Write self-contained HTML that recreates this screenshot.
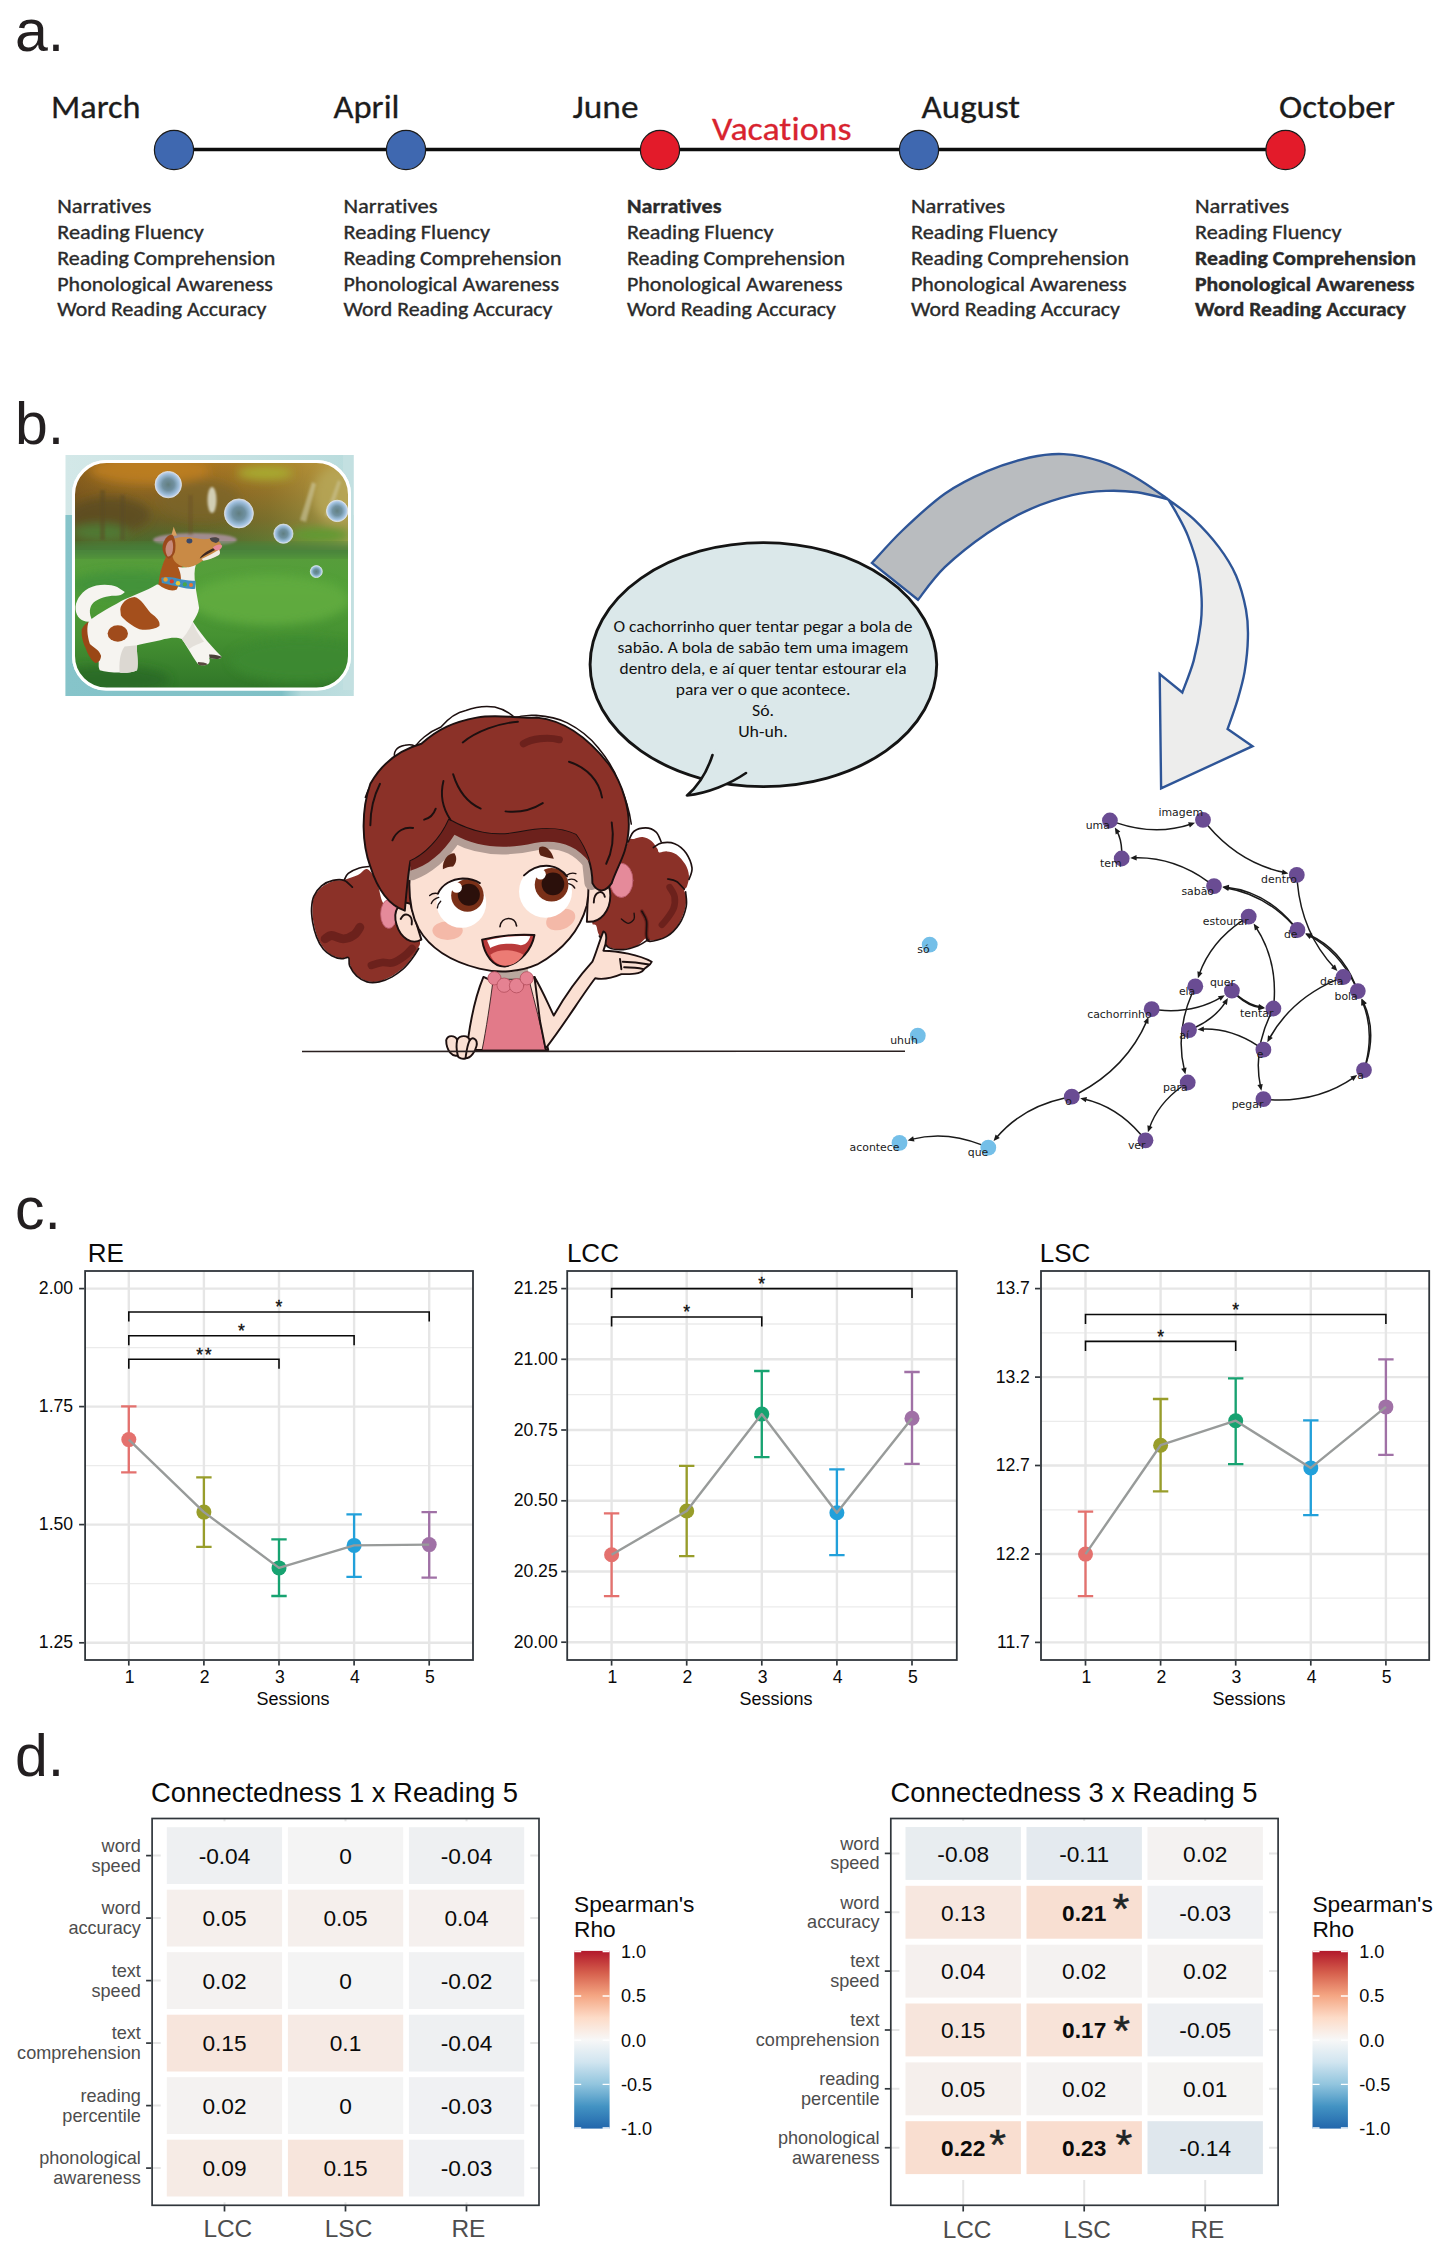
<!DOCTYPE html>
<html lang="en"><head><meta charset="utf-8"><title>Figure</title>
<style>
html,body{margin:0;padding:0;background:#fff;}
svg{display:block;}
text{font-family:"Liberation Sans",Arial,sans-serif;}
.cal{font-family:"Carlito","Liberation Sans",sans-serif;font-variant-ligatures:none;font-feature-settings:"liga" 0,"clig" 0;}
</style></head><body>
<svg width="1450" height="2247" viewBox="0 0 1450 2247">
<rect width="1450" height="2247" fill="#fff"/>
<!-- 10_a.svg -->
<text x="15" y="51" font-size="59" fill="#231f20">a.</text>
<text x="15" y="444" font-size="59" fill="#231f20">b.</text>
<text x="15" y="1229" font-size="59" fill="#231f20">c.</text>
<text x="15" y="1776" font-size="59" fill="#231f20">d.</text>
<line x1="174" y1="149.5" x2="1285" y2="149.5" stroke="#0d0d0d" stroke-width="3.6"/>
<circle cx="174" cy="150" r="19.6" fill="#3f68b0" stroke="#1a1a1a" stroke-width="1.2"/>
<circle cx="406" cy="150" r="19.6" fill="#3f68b0" stroke="#1a1a1a" stroke-width="1.2"/>
<circle cx="660" cy="150" r="19.6" fill="#e31b2a" stroke="#1a1a1a" stroke-width="1.2"/>
<circle cx="919" cy="150" r="19.6" fill="#3f68b0" stroke="#1a1a1a" stroke-width="1.2"/>
<circle cx="1285.5" cy="150" r="19.6" fill="#e31b2a" stroke="#1a1a1a" stroke-width="1.2"/>
<text class="cal" x="51" y="118" font-size="33.5" fill="#1c1c1c" stroke="#1c1c1c" stroke-width="0.3" textLength="89.5" lengthAdjust="spacingAndGlyphs">March</text>
<text class="cal" x="333.5" y="118" font-size="33.5" fill="#1c1c1c" stroke="#1c1c1c" stroke-width="0.3" textLength="66.0" lengthAdjust="spacingAndGlyphs">April</text>
<text class="cal" x="572.5" y="118" font-size="33.5" fill="#1c1c1c" stroke="#1c1c1c" stroke-width="0.3" textLength="66.0" lengthAdjust="spacingAndGlyphs">June</text>
<text class="cal" x="921.5" y="118" font-size="33.5" fill="#1c1c1c" stroke="#1c1c1c" stroke-width="0.3" textLength="98.5" lengthAdjust="spacingAndGlyphs">August</text>
<text class="cal" x="1279" y="118" font-size="33.5" fill="#1c1c1c" stroke="#1c1c1c" stroke-width="0.3" textLength="116" lengthAdjust="spacingAndGlyphs">October</text>
<text class="cal" x="712" y="139.5" font-size="33.5" fill="#d8232f" stroke="#d8232f" stroke-width="0.3" textLength="139.5" lengthAdjust="spacingAndGlyphs">Vacations</text>
<text class="cal" x="57.3" y="213" font-size="20" fill="#2a2a2a" stroke="#2a2a2a" stroke-width="0.35" textLength="94" lengthAdjust="spacingAndGlyphs">Narratives</text>
<text class="cal" x="57.3" y="238.5" font-size="20" fill="#2a2a2a" stroke="#2a2a2a" stroke-width="0.35" textLength="146.5" lengthAdjust="spacingAndGlyphs">Reading Fluency</text>
<text class="cal" x="57.3" y="265" font-size="20" fill="#2a2a2a" stroke="#2a2a2a" stroke-width="0.35" textLength="218" lengthAdjust="spacingAndGlyphs">Reading Comprehension</text>
<text class="cal" x="57.3" y="291" font-size="20" fill="#2a2a2a" stroke="#2a2a2a" stroke-width="0.35" textLength="215.5" lengthAdjust="spacingAndGlyphs">Phonological Awareness</text>
<text class="cal" x="57.3" y="316" font-size="20" fill="#2a2a2a" stroke="#2a2a2a" stroke-width="0.35" textLength="209" lengthAdjust="spacingAndGlyphs">Word Reading Accuracy</text>
<text class="cal" x="343.5" y="213" font-size="20" fill="#2a2a2a" stroke="#2a2a2a" stroke-width="0.35" textLength="94" lengthAdjust="spacingAndGlyphs">Narratives</text>
<text class="cal" x="343.5" y="238.5" font-size="20" fill="#2a2a2a" stroke="#2a2a2a" stroke-width="0.35" textLength="146.5" lengthAdjust="spacingAndGlyphs">Reading Fluency</text>
<text class="cal" x="343.5" y="265" font-size="20" fill="#2a2a2a" stroke="#2a2a2a" stroke-width="0.35" textLength="218" lengthAdjust="spacingAndGlyphs">Reading Comprehension</text>
<text class="cal" x="343.5" y="291" font-size="20" fill="#2a2a2a" stroke="#2a2a2a" stroke-width="0.35" textLength="215.5" lengthAdjust="spacingAndGlyphs">Phonological Awareness</text>
<text class="cal" x="343.5" y="316" font-size="20" fill="#2a2a2a" stroke="#2a2a2a" stroke-width="0.35" textLength="209" lengthAdjust="spacingAndGlyphs">Word Reading Accuracy</text>
<text class="cal" x="627" y="213" font-size="20" fill="#2a2a2a" stroke="#2a2a2a" stroke-width="0.35" font-weight="700" textLength="94.5" lengthAdjust="spacingAndGlyphs">Narratives</text>
<text class="cal" x="627" y="238.5" font-size="20" fill="#2a2a2a" stroke="#2a2a2a" stroke-width="0.35" textLength="146.5" lengthAdjust="spacingAndGlyphs">Reading Fluency</text>
<text class="cal" x="627" y="265" font-size="20" fill="#2a2a2a" stroke="#2a2a2a" stroke-width="0.35" textLength="218" lengthAdjust="spacingAndGlyphs">Reading Comprehension</text>
<text class="cal" x="627" y="291" font-size="20" fill="#2a2a2a" stroke="#2a2a2a" stroke-width="0.35" textLength="215.5" lengthAdjust="spacingAndGlyphs">Phonological Awareness</text>
<text class="cal" x="627" y="316" font-size="20" fill="#2a2a2a" stroke="#2a2a2a" stroke-width="0.35" textLength="209" lengthAdjust="spacingAndGlyphs">Word Reading Accuracy</text>
<text class="cal" x="911" y="213" font-size="20" fill="#2a2a2a" stroke="#2a2a2a" stroke-width="0.35" textLength="94" lengthAdjust="spacingAndGlyphs">Narratives</text>
<text class="cal" x="911" y="238.5" font-size="20" fill="#2a2a2a" stroke="#2a2a2a" stroke-width="0.35" textLength="146.5" lengthAdjust="spacingAndGlyphs">Reading Fluency</text>
<text class="cal" x="911" y="265" font-size="20" fill="#2a2a2a" stroke="#2a2a2a" stroke-width="0.35" textLength="218" lengthAdjust="spacingAndGlyphs">Reading Comprehension</text>
<text class="cal" x="911" y="291" font-size="20" fill="#2a2a2a" stroke="#2a2a2a" stroke-width="0.35" textLength="215.5" lengthAdjust="spacingAndGlyphs">Phonological Awareness</text>
<text class="cal" x="911" y="316" font-size="20" fill="#2a2a2a" stroke="#2a2a2a" stroke-width="0.35" textLength="209" lengthAdjust="spacingAndGlyphs">Word Reading Accuracy</text>
<text class="cal" x="1195" y="213" font-size="20" fill="#2a2a2a" stroke="#2a2a2a" stroke-width="0.35" textLength="94" lengthAdjust="spacingAndGlyphs">Narratives</text>
<text class="cal" x="1195" y="238.5" font-size="20" fill="#2a2a2a" stroke="#2a2a2a" stroke-width="0.35" textLength="146.5" lengthAdjust="spacingAndGlyphs">Reading Fluency</text>
<text class="cal" x="1195" y="265" font-size="20" fill="#2a2a2a" stroke="#2a2a2a" stroke-width="0.35" font-weight="700" textLength="221" lengthAdjust="spacingAndGlyphs">Reading Comprehension</text>
<text class="cal" x="1195" y="291" font-size="20" fill="#2a2a2a" stroke="#2a2a2a" stroke-width="0.35" font-weight="700" textLength="219.5" lengthAdjust="spacingAndGlyphs">Phonological Awareness</text>
<text class="cal" x="1195" y="316" font-size="20" fill="#2a2a2a" stroke="#2a2a2a" stroke-width="0.35" font-weight="700" textLength="211" lengthAdjust="spacingAndGlyphs">Word Reading Accuracy</text>
<!-- 20_dog.svg -->
<defs>
<linearGradient id="dgBg" x1="0" y1="0" x2="1" y2="0"><stop offset="0" stop-color="#d3e8e8"/><stop offset="0.5" stop-color="#c9e3e4"/><stop offset="1" stop-color="#b9dcdd"/></linearGradient>
<linearGradient id="dgBg2" x1="0" y1="0" x2="1" y2="0"><stop offset="0" stop-color="#86c4ca"/><stop offset="0.75" stop-color="#7fc0c6"/><stop offset="0.82" stop-color="#b5dadc"/><stop offset="1" stop-color="#bfdfe0"/></linearGradient>
<linearGradient id="dgSky" x1="0" y1="0" x2="0" y2="1"><stop offset="0" stop-color="#b0761f"/><stop offset="0.35" stop-color="#8a6422"/><stop offset="0.62" stop-color="#6a5f26"/><stop offset="0.82" stop-color="#4c6a2d"/><stop offset="1" stop-color="#3f7f31"/></linearGradient>
<linearGradient id="dgSkyR" x1="0" y1="0" x2="1" y2="0"><stop offset="0" stop-color="#5a3a12" stop-opacity="0.35"/><stop offset="0.3" stop-color="#8a6a22" stop-opacity="0"/><stop offset="0.7" stop-color="#a8a040" stop-opacity="0.25"/><stop offset="1" stop-color="#c8b860" stop-opacity="0.7"/></linearGradient>
<linearGradient id="dgGrass" x1="0" y1="0" x2="0" y2="1"><stop offset="0" stop-color="#589c3c"/><stop offset="0.25" stop-color="#52a038"/><stop offset="0.6" stop-color="#469232"/><stop offset="1" stop-color="#2f7428"/></linearGradient>
<radialGradient id="dgBub" cx="0.5" cy="0.5" r="0.5"><stop offset="0" stop-color="#5f7f86"/><stop offset="0.45" stop-color="#6f93a8"/><stop offset="0.8" stop-color="#9fc3e6"/><stop offset="0.95" stop-color="#c8d8f2"/><stop offset="1" stop-color="#e6eefa"/></radialGradient>
<clipPath id="dgClip"><rect x="73.5" y="461.5" width="276" height="227.5" rx="33" ry="33"/></clipPath>
<filter id="dgBlur" x="-20%" y="-20%" width="140%" height="140%"><feGaussianBlur stdDeviation="5"/></filter>
<filter id="dgBlur3" x="-10%" y="-10%" width="120%" height="120%"><feGaussianBlur stdDeviation="4"/></filter>
<filter id="dgBlur2" x="-20%" y="-20%" width="140%" height="140%"><feGaussianBlur stdDeviation="1.2"/></filter>
</defs>
<g>
<rect x="65.5" y="455" width="288" height="241" fill="url(#dgBg)"/>
<rect x="65.5" y="515" width="288" height="181" fill="url(#dgBg2)"/>
<rect x="343" y="455" width="10.5" height="235" fill="#c3e0e1"/>
<rect x="72" y="460" width="279" height="230.500" rx="34" ry="34" fill="#fff"/>
<g clip-path="url(#dgClip)">
<rect x="70" y="458" width="284" height="100" fill="url(#dgSky)"/>
<rect x="70" y="458" width="284" height="100" fill="url(#dgSkyR)"/>
<g filter="url(#dgBlur)">
<ellipse cx="150" cy="470" rx="60" ry="14" fill="#c07f22" opacity="0.8"/>
<ellipse cx="110" cy="515" rx="40" ry="18" fill="#5a4a1e" opacity="0.8"/>
<ellipse cx="265" cy="473" rx="28" ry="7" fill="#a8b030" opacity="0.9"/>
<ellipse cx="335" cy="495" rx="22" ry="28" fill="#b8a858" opacity="0.8"/>
<ellipse cx="200" cy="500" rx="40" ry="20" fill="#7a6526" opacity="0.7"/>
<ellipse cx="320" cy="535" rx="30" ry="7" fill="#5f9a30"/>
<ellipse cx="100" cy="532" rx="28" ry="8" fill="#4f7a34"/>
</g>
<g filter="url(#dgBlur2)">
<ellipse cx="195" cy="540" rx="42" ry="7" fill="#a8909a" opacity="0.9"/>
<ellipse cx="212" cy="500" rx="4.5" ry="13" fill="#e0e0cc" opacity="0.85"/>
<path d="M300 520 L312 482 L316 484 L306 522 Z" fill="#cfc9a0" opacity="0.6"/>
<path d="M325 515 L338 480 L341 482 L330 517 Z" fill="#cfc9a0" opacity="0.5"/>
<rect x="100" y="490" width="5" height="50" fill="#5a4a20" opacity="0.5"/>
<rect x="120" y="495" width="5" height="45" fill="#5a4a20" opacity="0.4"/>
<rect x="188" y="495" width="5" height="40" fill="#6a5020" opacity="0.4"/>
</g>
<rect x="70" y="550" width="284" height="142" fill="url(#dgGrass)"/>
<rect x="60" y="544" width="300" height="12" fill="#47803a" filter="url(#dgBlur)"/>
<g filter="url(#dgBlur)" opacity="0.9">
<ellipse cx="270" cy="600" rx="80" ry="25" fill="#62ac40"/>
<ellipse cx="130" cy="585" rx="60" ry="14" fill="#43923a"/>
<ellipse cx="300" cy="660" rx="70" ry="22" fill="#3c8a30"/>
<ellipse cx="110" cy="680" rx="60" ry="14" fill="#2a6a26"/>
</g>
<g transform="translate(70,510) scale(0.12414)">
<g filter="url(#dgBlur3)">
<!-- tail -->
<path d="M150 900 C90 900 50 860 45 800 C40 740 80 670 150 630 C220 595 320 595 380 620 L442 660 C420 685 390 692 360 690 C300 690 230 710 190 745 C155 780 150 830 180 890 Z" fill="#f6f4f0"/>
<!-- body -->
<path d="M150 900 C200 850 300 800 420 730 C500 690 620 650 700 600 L1010 600 C1015 660 1030 720 1040 790 C1035 830 1010 870 990 900 C1030 960 1100 1060 1220 1180 C1215 1205 1180 1205 1120 1190 C1130 1210 1125 1235 1110 1242 C1080 1255 1050 1255 1030 1240 C990 1190 950 1110 900 1040 C860 1020 800 1030 760 1040 C700 1060 600 1075 540 1090 C535 1150 555 1230 540 1290 C500 1310 440 1315 400 1310 C340 1310 280 1300 240 1290 C225 1260 235 1240 230 1220 C190 1170 150 1080 130 1000 C125 960 130 925 150 900 Z" fill="#f6f4f0"/>
<path d="M540 1090 C535 1150 555 1230 540 1290 C500 1310 440 1315 400 1310 C395 1240 400 1150 440 1100 Z" fill="#dcd8d2"/>
<path d="M900 1040 C940 1000 960 960 990 900 C1000 950 1040 1010 1080 1060 C1040 1080 1000 1090 960 1120 Z" fill="#e4e0da"/>
<!-- patches -->
<path d="M405 800 C410 750 460 705 520 700 C570 710 610 780 650 830 C700 865 730 900 720 935 C680 965 610 970 560 960 C500 935 440 890 410 850 Z" fill="#a4501c"/>
<ellipse cx="385" cy="995" rx="82" ry="66" fill="#a04c1a"/>
<path d="M95 960 C110 930 135 905 150 900 C135 940 135 1000 160 1080 C190 1110 235 1125 250 1175 C250 1205 230 1235 205 1232 C175 1215 145 1170 125 1110 C100 1060 90 1000 95 960 Z" fill="#9a4616"/>
<!-- neck -->
<path d="M780 360 C740 440 720 520 712 600 C760 640 820 660 860 640 L895 560 C905 520 905 470 900 440 L860 380 Z" fill="#a9571f"/>
<path d="M870 460 C920 470 980 455 1015 435 C1000 480 1000 540 1010 600 L890 590 C900 550 890 500 870 460 Z" fill="#f3f0ea"/>
<!-- head -->
<path d="M835 135 L862 205 L815 210 Z" fill="#d9a05e"/>
<path d="M830 235 C880 210 960 215 1020 228 C1080 240 1130 235 1170 220 C1190 222 1205 235 1200 255 C1215 265 1225 285 1215 305 C1205 325 1205 345 1205 352 C1170 385 1110 400 1075 405 C1040 430 1000 455 955 462 C905 462 860 440 835 400 C815 350 815 280 830 235 Z" fill="#c98a45"/>
<path d="M1060 395 C1110 370 1160 345 1200 320 C1212 335 1210 355 1200 362 C1160 385 1110 402 1075 408 Z" fill="#f0ece4"/>
<path d="M1045 392 C1090 365 1140 335 1198 308 C1180 300 1160 302 1140 315 C1100 335 1060 360 1045 392 Z" fill="#3a2820"/>
<path d="M1150 300 C1175 280 1210 270 1225 285 C1228 305 1205 322 1180 325 C1165 322 1155 312 1150 300 Z" fill="#e88a98"/>
<path d="M1125 228 C1150 215 1190 215 1203 232 C1205 250 1195 262 1175 265 C1150 262 1130 250 1125 228 Z" fill="#4a4448"/>
<ellipse cx="962" cy="250" rx="24" ry="20" fill="#3a4a6a"/>
<!-- ear -->
<path d="M745 300 C750 245 785 195 825 200 C850 230 855 290 845 340 C830 375 810 395 790 392 C765 375 745 340 745 300 Z" fill="#9a4a1c"/>
<path d="M770 310 C775 270 800 240 822 245 C835 275 832 320 822 350 C810 372 795 378 785 372 C775 355 768 335 770 310 Z" fill="#c78a7a"/>
<!-- collar -->
<path d="M735 545 C790 530 850 545 900 560 C940 568 980 570 1012 570 L1008 635 C970 640 930 632 900 625 C850 612 790 598 740 588 Z" fill="#3f8fc0"/>
<circle cx="770" cy="560" r="18" fill="#e8a030"/><circle cx="820" cy="575" r="17" fill="#d8402c"/><circle cx="870" cy="590" r="18" fill="#e8c838"/><circle cx="925" cy="600" r="17" fill="#48a848"/><circle cx="975" cy="605" r="16" fill="#e87830"/>
<!-- paws -->
<path d="M1120 1165 C1150 1160 1200 1170 1222 1182 C1210 1205 1170 1205 1125 1192 Z" fill="#4a4038"/>
<path d="M1030 1225 C1060 1225 1095 1232 1110 1242 C1085 1255 1050 1255 1030 1242 Z" fill="#5a4a40"/>
</g>
</g>
<!-- bubbles -->
<g stroke="#dfeaf5" stroke-width="0.8" opacity="0.95">
<circle cx="168.300" cy="484.600" r="13.200" fill="url(#dgBub)"/>
<circle cx="238.900" cy="513.400" r="14.500" fill="url(#dgBub)"/>
<circle cx="337.200" cy="510.900" r="10.700" fill="url(#dgBub)"/>
<circle cx="283.400" cy="533.700" r="9.600" fill="url(#dgBub)"/>
<circle cx="316.300" cy="571.600" r="6" fill="url(#dgBub)"/>
</g>
</g>
<rect x="73.500" y="461.500" width="276" height="227.500" rx="33" ry="33" fill="none" stroke="#fff" stroke-width="3"/>
</g>

<!-- 25_bubble.svg -->
<path d="M1168.2 499.4 C1172.4 502.7 1185.2 511.2 1193.7 519.2 C1202.1 527.2 1212.0 538.0 1219.1 547.4 C1226.2 556.9 1231.6 565.4 1236.1 575.7 C1240.5 586.1 1244.0 599.3 1246.0 609.7 C1247.9 620.0 1248.2 627.6 1247.9 637.9 C1247.7 648.3 1246.3 661.5 1244.6 671.9 C1242.8 682.2 1240.3 690.6 1237.5 700.1 C1234.7 709.7 1229.2 724.2 1227.6 729.0 L1252.5 746.2 L1161.1 788.4 L1159.7 674.1 L1182.3 692.5 C1184.2 687.2 1190.6 672.0 1193.7 660.6 C1196.7 649.1 1199.4 634.2 1200.7 623.8 C1202.0 613.4 1202.0 607.8 1201.6 598.3 C1201.1 588.9 1200.2 577.6 1197.9 567.2 C1195.6 556.9 1191.5 545.1 1188.0 536.1 C1184.5 527.2 1180.0 519.6 1176.7 513.5 C1173.4 507.4 1169.6 501.7 1168.2 499.4 Z" fill="#ededec" stroke="#2e5597" stroke-width="2.4" stroke-linejoin="miter"/>
<path d="M871.9 563.0 C877.0 557.6 890.3 542.0 902.4 530.5 C914.6 518.9 930.7 503.6 944.8 493.7 C959.0 483.8 973.1 477.1 987.2 471.1 C1001.4 465.1 1016.9 460.4 1029.7 457.5 C1042.4 454.7 1051.8 453.5 1063.6 454.1 C1075.4 454.8 1088.6 457.4 1100.3 461.2 C1112.1 465.0 1123.0 470.4 1134.3 476.8 C1145.6 483.1 1162.6 495.6 1168.2 499.4 L1168.2 499.4 C1163.0 498.2 1147.5 493.7 1137.1 492.3 C1126.7 490.9 1116.8 490.4 1106.0 490.9 C1095.2 491.4 1084.8 492.1 1072.1 495.1 C1059.3 498.2 1043.8 502.9 1029.7 509.3 C1015.5 515.6 1001.4 523.6 987.2 533.3 C973.1 543.0 956.4 556.2 944.8 567.2 C933.3 578.3 922.4 594.3 918.0 599.8 Z" fill="#b9bcbf" stroke="#2e5597" stroke-width="2.4" stroke-linejoin="miter"/>
<path d="M712 752 C707 770 697 786 687.5 795 C708 792 730 783 746 772 L760 740 Z" fill="#dbe8ea"/>
<ellipse cx="763.4" cy="664.6" rx="173.3" ry="122" fill="#dbe8ea" stroke="#141414" stroke-width="2.9"/>
<path d="M714 748 L740 775 L752 768 Z" fill="#dbe8ea"/>
<path d="M712.5 755 C707 772 697 787 687 795.5 C708 793 730 784 746 773" fill="#dbe8ea" stroke="#141414" stroke-width="2.6" stroke-linecap="round" stroke-linejoin="round"/>
<text class="cal" x="613.5" y="632.2" font-size="15.8" fill="#111" textLength="299" lengthAdjust="spacingAndGlyphs">O cachorrinho quer tentar pegar a bola de</text>
<text class="cal" x="617.5" y="653.2" font-size="15.8" fill="#111" textLength="291" lengthAdjust="spacingAndGlyphs">sabão. A bola de sabão tem uma imagem</text>
<text class="cal" x="619.5" y="674.1" font-size="15.8" fill="#111" textLength="287" lengthAdjust="spacingAndGlyphs">dentro dela, e aí quer tentar estourar ela</text>
<text class="cal" x="675.8" y="695.1" font-size="15.8" fill="#111" textLength="174.5" lengthAdjust="spacingAndGlyphs">para ver o que acontece.</text>
<text class="cal" x="752.0" y="716.1" font-size="15.8" fill="#111" textLength="22" lengthAdjust="spacingAndGlyphs">Só.</text>
<text class="cal" x="738.2" y="737.1" font-size="15.8" fill="#111" textLength="49.5" lengthAdjust="spacingAndGlyphs">Uh-uh.</text>
<!-- 30_girl.svg -->
<g transform="translate(300,690) scale(0.27586)" stroke-linejoin="round" stroke-linecap="round">
<!-- offset outline strokes (white halo style) -->
<g fill="none" stroke="#1d1010" stroke-width="5.5">
<path d="M237 389 C250 350 265 325 290 300 C305 280 325 265 345 252"/>
<path d="M345 252 C335 225 350 205 380 200 C400 196 420 200 430 215"/>
<path d="M405 225 C425 185 470 150 511 134 C540 100 570 80 601 74 C640 60 680 58 706 62 C740 70 770 88 789 111"/>
<path d="M766 104 C800 92 830 90 856 92 C900 95 940 105 969 119 C1010 140 1050 170 1081 209 C1115 250 1140 290 1156 336 C1180 390 1195 440 1201 486"/>
</g>
<!-- ponytails -->
<path d="M245 650 C233 645 224 665 210 671 C196 677 176 684 161 688 C146 692 136 688 122 692 C108 696 92 704 80 713 C68 722 58 735 52 748 C46 761 46 774 45 790 C44 806 46 824 49 842 C52 860 57 879 63 895 C69 911 78 926 87 937 C96 948 104 955 115 961 C126 967 140 971 150 972 C160 973 170 967 175 968 C180 969 176 972 178 978 C180 984 180 997 185 1007 C190 1017 200 1030 210 1038 C220 1046 232 1053 245 1056 C258 1059 272 1059 287 1056 C302 1053 318 1046 332 1038 C346 1030 359 1020 371 1010 C383 1000 393 987 402 975 C411 963 422 948 427 937 C432 926 438 924 434 909 C430 894 416 868 400 850 C384 832 357 813 340 800 C323 787 310 787 300 770 C290 753 289 720 280 700 C271 680 257 655 245 650 Z" fill="#8b3128"/>
<path d="M91 902 C95 900 104 890 115 890 C126 890 144 902 157 902 C170 902 186 895 196 888 C206 881 214 865 217 860" fill="none" stroke="#6c211c" stroke-width="32"/>
<path d="M259 998 C265 996 284 990 297 988 C310 986 322 993 336 989 C350 985 366 974 378 965 C390 956 401 942 406 937" fill="none" stroke="#6c211c" stroke-width="28"/>
<g fill="none" stroke="#1d1010" stroke-width="6">
<path d="M250 640 C244 641 228 641 215 645 C202 649 184 658 175 665 C166 672 162 686 160 690"/>
<path d="M190 715 C185 711 172 694 160 690 C148 686 134 687 120 690 C106 693 90 700 78 710 C66 720 56 735 50 748 C44 761 43 774 42 790 C41 806 43 824 46 842 C49 860 54 879 60 895 C66 911 76 929 85 940 C94 951 104 957 115 963 C126 969 140 973 150 974 C160 975 171 966 176 970 C181 974 175 989 180 1000 C185 1011 194 1026 205 1036 C216 1046 229 1054 243 1058 C257 1062 272 1061 287 1058 C302 1055 320 1048 334 1040 C348 1032 361 1022 373 1012 C385 1002 394 990 404 977 C414 964 426 944 430 937"/>
</g>
<path d="M1190 550 C1200 532 1202 543 1211 540 C1220 537 1232 532 1242 533 C1252 534 1265 540 1274 547 C1283 554 1290 568 1295 575 C1300 582 1296 587 1302 589 C1308 591 1320 584 1330 585 C1340 586 1354 588 1365 596 C1376 604 1388 618 1396 631 C1404 644 1409 660 1410 673 C1411 686 1406 702 1403 711 C1400 720 1394 718 1393 725 C1392 732 1400 739 1400 750 C1400 761 1400 778 1396 792 C1392 806 1387 822 1379 837 C1371 852 1359 868 1347 879 C1335 890 1320 899 1305 904 C1290 909 1269 908 1260 907 C1251 906 1259 897 1253 900 C1247 903 1238 918 1225 925 C1212 932 1190 938 1172 939 C1154 940 1134 940 1120 932 C1106 924 1093 903 1085 890 C1077 877 1078 864 1074 855 C1070 846 1056 861 1060 835 C1064 809 1085 731 1100 700 C1115 669 1135 675 1150 650 C1165 625 1180 568 1190 550 Z" fill="#8b3128"/>
<path d="M1340 715 C1343 721 1356 737 1358 750 C1360 763 1359 779 1354 792 C1349 805 1337 820 1330 830 C1323 840 1315 848 1312 851" fill="none" stroke="#6c211c" stroke-width="24"/>
<path d="M1239 802 C1242 808 1253 822 1256 837 C1259 852 1255 879 1256 890 C1257 901 1261 902 1262 905" fill="none" stroke="#6c211c" stroke-width="14"/>
<g fill="none" stroke="#1d1010" stroke-width="6">
<path d="M1190 550 C1194 544 1200 520 1211 512 C1222 504 1240 500 1253 500 C1266 500 1282 507 1291 515 C1300 523 1306 544 1309 550"/>
<path d="M1281 571 C1286 568 1299 556 1312 554 C1325 552 1343 551 1358 557 C1373 563 1390 577 1400 592 C1410 607 1419 629 1421 645 C1423 661 1412 680 1410 687"/>
<path d="M1333 685 C1338 686 1355 688 1365 694 C1375 700 1388 717 1393 722"/>
<path d="M1398 732 C1398 741 1404 766 1400 785 C1396 804 1387 830 1375 848 C1363 866 1348 882 1330 893 C1312 904 1279 912 1267 911 C1255 910 1258 902 1256 890 C1254 878 1259 852 1256 837 C1253 822 1242 808 1239 802"/>
<path d="M1165 830 C1169 833 1182 846 1190 846 C1198 846 1208 836 1211 830 C1214 824 1211 812 1211 809" stroke-width="5"/>
<path d="M1262 905 C1256 909 1240 921 1225 927 C1210 933 1190 940 1172 941 C1154 942 1134 942 1120 934 C1106 926 1091 899 1085 892"/>
</g>
<!-- hair ties -->
<ellipse cx="322" cy="812" rx="30" ry="52" fill="#e58a9a" stroke="#b95a6c" stroke-width="3"/>
<ellipse cx="1165" cy="690" rx="42" ry="62" fill="#e58a9a" stroke="#b95a6c" stroke-width="3"/>
<!-- back hair mass -->
<path d="M255 640 C225 560 220 440 255 340 C300 260 370 215 440 195 C500 140 560 115 640 100 C720 85 790 105 860 100 C960 110 1050 180 1120 270 C1170 340 1200 440 1190 520 C1185 590 1150 640 1130 700 L1050 760 L380 800 C320 780 280 720 255 640 Z" fill="#8b3128"/>
<!-- ears -->
<path d="M400 775 C360 760 335 800 350 850 C365 900 405 925 440 905 Z" fill="#fbe0d3" stroke="#1d1010" stroke-width="7"/>
<path d="M365 830 C380 800 410 815 405 850" fill="none" stroke="#1d1010" stroke-width="7"/>
<path d="M1045 700 C1080 670 1125 690 1125 745 C1125 800 1090 845 1040 840 Z" fill="#fbe0d3" stroke="#1d1010" stroke-width="7"/>
<path d="M1065 770 C1065 730 1100 720 1105 750" fill="none" stroke="#1d1010" stroke-width="7"/>
<!-- neck -->
<path d="M700 980 L700 1060 L830 1060 L825 970 Z" fill="#fbe0d3"/>
<path d="M705 1005 C740 1030 790 1030 825 1000 L828 1040 C790 1060 740 1060 702 1040 Z" fill="#b9a79e"/>
<!-- face -->
<path d="M405 600 C390 700 395 800 430 865 C470 935 550 985 650 1010 C720 1028 800 1022 860 995 C950 945 1015 870 1040 780 C1055 700 1040 600 1000 520 L560 470 Z" fill="#fbe0d3" stroke="#1d1010" stroke-width="7"/>
<!-- fringe shadow -->
<path d="M405 665 C460 645 522 595 562 530 C640 572 740 582 850 557 C930 542 1000 562 1048 625 L1056 700" fill="none" stroke="#b39d95" stroke-width="50"/>
<!-- front hair -->
<path d="M255 640 C225 560 220 440 255 340 C300 260 370 215 440 195 C500 140 560 115 640 100 C720 85 790 105 860 100 C960 110 1050 180 1120 270 C1170 340 1200 440 1190 520 C1185 590 1150 640 1130 700 C1110 730 1080 740 1060 700 C1060 640 1040 580 1000 525 C940 495 870 500 800 515 C700 535 620 515 540 470 C510 540 450 600 400 620 C390 680 385 740 380 800 C320 780 280 720 255 640 Z" fill="#8b3128" stroke="#1d1010" stroke-width="7"/>
<path d="M400 620 C450 600 510 540 540 470 C620 515 700 535 800 515 C870 500 940 495 1000 525 C1020 550 1040 590 1050 625 C1000 560 930 540 850 555 C740 580 640 570 560 525 C520 590 460 640 400 655 Z" fill="#6c211c"/>
<path d="M810 195 C840 175 900 170 940 180" fill="none" stroke="#6c211c" stroke-width="26"/>
<g fill="none" stroke="#1d1010" stroke-width="7">
<path d="M520 330 C505 390 525 440 545 470"/>
<path d="M555 305 C575 370 610 410 655 430"/>
<path d="M590 190 C640 150 720 120 790 115"/>
<path d="M745 440 C790 445 840 435 880 410"/>
<path d="M975 260 C1040 280 1085 330 1095 390"/>
<path d="M1130 480 C1140 540 1130 590 1110 630"/>
<path d="M290 340 C265 390 255 440 255 490"/>
<path d="M335 545 C350 510 380 495 410 500"/>
<path d="M450 470 C470 465 485 450 492 430"/>
</g>
<!-- cheeks -->
<ellipse cx="535" cy="872" rx="55" ry="34" fill="#f4b9a8"/>
<ellipse cx="945" cy="832" rx="55" ry="36" fill="#f4b9a8" transform="rotate(-22 945 832)"/>
<!-- eyes -->
<circle cx="585" cy="772" r="90" fill="#fff"/>
<circle cx="890" cy="730" r="96" fill="#fff"/>
<circle cx="607" cy="745" r="59" fill="#7a3018"/>
<circle cx="612" cy="742" r="40" fill="#2b100b"/>
<circle cx="568" cy="716" r="19" fill="#fff"/>
<circle cx="912" cy="706" r="61" fill="#7a3018"/>
<circle cx="917" cy="703" r="41" fill="#2b100b"/>
<circle cx="872" cy="668" r="19" fill="#fff"/>
<g fill="none" stroke="#1d1010" stroke-width="7">
<path d="M500 738 C515 705 550 685 590 683 C615 683 638 690 652 700"/>
<path d="M812 672 C840 645 875 635 905 638 C930 641 952 655 968 676"/>
<path d="M500 738 C488 735 478 738 470 745 M503 752 C490 756 480 764 476 774 M510 766 C502 774 498 782 498 790" stroke-width="5"/>
<path d="M966 672 C978 664 990 662 1000 666 M972 688 C984 684 996 686 1004 694 M974 702 C984 704 992 710 996 718" stroke-width="5"/>
<path d="M725 858 C730 820 780 818 785 855" stroke-width="6"/>
</g>
<!-- brows -->
<path d="M518 650 C515 615 540 590 560 592 C572 610 565 630 555 640 C540 640 528 645 518 650 Z" fill="#5a2314"/>
<path d="M868 570 C885 560 910 575 920 612 C905 610 885 605 872 600 C865 590 865 578 868 570 Z" fill="#5a2314"/>
<!-- mouth -->
<path d="M660 905 C720 890 790 885 850 888 C840 940 800 990 745 1002 C700 1005 668 960 660 905 Z" fill="#b93a3a" stroke="#1d1010" stroke-width="7"/>
<path d="M678 908 C730 893 790 890 835 893 C828 915 815 925 800 925 C760 915 715 920 690 935 Z" fill="#fff"/>
<path d="M690 960 C720 935 780 940 810 960 C795 985 770 998 745 1000 C720 1000 700 985 690 960 Z" fill="#ec7b74"/>
<!-- body -->
<path d="M665 1040 C640 1100 620 1190 610 1260 L612 1305 L900 1305 C880 1230 870 1130 850 1040 C800 1070 720 1070 665 1040 Z" fill="#fbe0d3" stroke="#1d1010" stroke-width="7"/>
<path d="M700 1050 C690 1130 675 1230 660 1305 L890 1305 C875 1220 850 1130 830 1050 Z" fill="#e27a89" stroke="#1d1010" stroke-width="3"/>
<g fill="#e58292" stroke="#b5505f" stroke-width="3">
<circle cx="705" cy="1045" r="24"/><circle cx="740" cy="1070" r="26"/><circle cx="785" cy="1072" r="26"/><circle cx="822" cy="1045" r="24"/>
</g>
<!-- raised arm -->
<path d="M850 1040 C880 1090 900 1140 920 1180 C960 1110 1010 1040 1060 985 C1075 950 1085 910 1100 875 C1115 880 1112 915 1100 945 C1150 945 1230 960 1275 985 C1270 1000 1250 1005 1245 1015 C1235 1030 1200 1030 1165 1030 C1130 1045 1095 1050 1070 1045 C1020 1110 960 1210 890 1300 L870 1200 Z" fill="#fbe0d3" stroke="#1d1010" stroke-width="7"/>
<path d="M1160 975 L1165 1012 M1170 985 C1200 985 1240 990 1265 995 M1175 1005 C1200 1005 1230 1008 1245 1012" fill="none" stroke="#1d1010" stroke-width="7"/>
<!-- left hand on table -->
<path d="M530 1270 C535 1250 560 1250 570 1268 C580 1250 610 1250 615 1270 C625 1255 645 1265 640 1290 C635 1310 620 1335 600 1335 C590 1340 575 1335 570 1325 C555 1330 530 1310 530 1270 Z" fill="#fbe0d3" stroke="#1d1010" stroke-width="7"/>
<path d="M570 1268 C565 1290 568 1310 572 1325 M615 1270 C605 1290 603 1315 600 1335" fill="none" stroke="#1d1010" stroke-width="7"/>
</g>
<path d="M302 1051.5 L905 1051.2" stroke="#2a2020" stroke-width="1.6" fill="none"/>

<!-- 40_graph.svg -->
<path d="M1116.6 822.9 Q1155.9 836.1 1191.4 824.0" fill="none" stroke="#1a1a1a" stroke-width="1.5"/>
<path d="M1195.0 822.8 L1189.8 827.4 L1188.1 822.3 Z" fill="#1a1a1a"/>
<path d="M1207.5 825.3 Q1239.7 863.4 1284.7 872.6" fill="none" stroke="#1a1a1a" stroke-width="1.5"/>
<path d="M1288.4 873.4 L1281.6 874.8 L1282.7 869.5 Z" fill="#1a1a1a"/>
<path d="M1297.3 882.0 Q1301.9 933.5 1334.8 968.2" fill="none" stroke="#1a1a1a" stroke-width="1.5"/>
<path d="M1337.4 971.0 L1331.0 968.2 L1335.0 964.5 Z" fill="#1a1a1a"/>
<path d="M1336.8 979.6 Q1291.2 998.9 1269.2 1038.8" fill="none" stroke="#1a1a1a" stroke-width="1.5"/>
<path d="M1267.3 1042.2 L1268.0 1035.2 L1272.8 1037.9 Z" fill="#1a1a1a"/>
<path d="M1257.6 1045.6 Q1230.1 1027.8 1201.3 1029.2" fill="none" stroke="#1a1a1a" stroke-width="1.5"/>
<path d="M1197.5 1029.4 L1203.7 1026.4 L1204.0 1031.7 Z" fill="#1a1a1a"/>
<path d="M1195.5 1027.3 Q1216.1 1017.5 1225.9 1001.4" fill="none" stroke="#1a1a1a" stroke-width="1.5"/>
<path d="M1227.9 998.1 L1226.9 1005.0 L1222.2 1002.2 Z" fill="#1a1a1a"/>
<path d="M1237.2 995.4 Q1249.4 1005.3 1261.1 1007.1" fill="none" stroke="#1a1a1a" stroke-width="1.5"/>
<path d="M1264.9 1007.7 L1258.2 1009.4 L1259.0 1004.1 Z" fill="#1a1a1a"/>
<path d="M1274.1 1001.4 Q1277.0 958.9 1255.7 926.8" fill="none" stroke="#1a1a1a" stroke-width="1.5"/>
<path d="M1253.6 923.5 L1259.4 927.4 L1254.9 930.4 Z" fill="#1a1a1a"/>
<path d="M1242.7 920.4 Q1210.6 941.9 1199.1 974.6" fill="none" stroke="#1a1a1a" stroke-width="1.5"/>
<path d="M1197.9 978.2 L1197.4 971.3 L1202.5 973.0 Z" fill="#1a1a1a"/>
<path d="M1192.3 992.7 Q1175.0 1032.4 1184.5 1070.6" fill="none" stroke="#1a1a1a" stroke-width="1.5"/>
<path d="M1185.4 1074.3 L1181.2 1068.8 L1186.5 1067.5 Z" fill="#1a1a1a"/>
<path d="M1181.8 1086.5 Q1157.6 1104.0 1149.2 1128.5" fill="none" stroke="#1a1a1a" stroke-width="1.5"/>
<path d="M1147.9 1132.2 L1147.4 1125.2 L1152.6 1127.0 Z" fill="#1a1a1a"/>
<path d="M1141.0 1134.8 Q1116.6 1106.4 1083.9 1099.1" fill="none" stroke="#1a1a1a" stroke-width="1.5"/>
<path d="M1080.2 1098.3 L1087.0 1097.0 L1085.8 1102.3 Z" fill="#1a1a1a"/>
<path d="M1064.8 1098.1 Q1021.8 1107.5 996.1 1138.1" fill="none" stroke="#1a1a1a" stroke-width="1.5"/>
<path d="M993.6 1141.0 L995.6 1134.4 L999.8 1137.9 Z" fill="#1a1a1a"/>
<path d="M981.8 1144.9 Q945.4 1130.3 911.3 1139.4" fill="none" stroke="#1a1a1a" stroke-width="1.5"/>
<path d="M907.6 1140.4 L913.1 1136.2 L914.5 1141.4 Z" fill="#1a1a1a"/>
<path d="M1078.1 1093.5 Q1126.8 1067.6 1147.0 1020.6" fill="none" stroke="#1a1a1a" stroke-width="1.5"/>
<path d="M1148.5 1017.1 L1148.5 1024.0 L1143.5 1021.9 Z" fill="#1a1a1a"/>
<path d="M1158.8 1010.1 Q1194.3 1013.5 1221.5 997.2" fill="none" stroke="#1a1a1a" stroke-width="1.5"/>
<path d="M1224.8 995.2 L1220.7 1000.8 L1217.9 996.2 Z" fill="#1a1a1a"/>
<path d="M1270.2 1014.9 Q1253.0 1051.4 1260.6 1087.1" fill="none" stroke="#1a1a1a" stroke-width="1.5"/>
<path d="M1261.4 1090.8 L1257.4 1085.1 L1262.7 1084.0 Z" fill="#1a1a1a"/>
<path d="M1270.5 1099.7 Q1318.1 1102.3 1354.0 1077.3" fill="none" stroke="#1a1a1a" stroke-width="1.5"/>
<path d="M1357.2 1075.1 L1353.4 1081.0 L1350.4 1076.6 Z" fill="#1a1a1a"/>
<path d="M1365.9 1063.3 Q1374.1 1030.2 1362.7 1002.4" fill="none" stroke="#1a1a1a" stroke-width="1.5"/>
<path d="M1361.3 998.8 L1366.2 1003.8 L1361.2 1005.8 Z" fill="#1a1a1a"/>
<path d="M1354.9 984.6 Q1338.4 950.8 1308.6 935.4" fill="none" stroke="#1a1a1a" stroke-width="1.5"/>
<path d="M1305.2 933.7 L1312.1 934.2 L1309.6 939.0 Z" fill="#1a1a1a"/>
<path d="M1292.8 924.7 Q1263.9 894.0 1226.2 887.9" fill="none" stroke="#1a1a1a" stroke-width="1.5"/>
<path d="M1222.4 887.2 L1229.2 885.6 L1228.3 890.9 Z" fill="#1a1a1a"/>
<path d="M1208.3 881.8 Q1173.2 856.6 1134.0 857.9" fill="none" stroke="#1a1a1a" stroke-width="1.5"/>
<path d="M1130.2 858.0 L1136.5 855.1 L1136.7 860.5 Z" fill="#1a1a1a"/>
<path d="M1121.8 851.4 Q1121.3 838.5 1116.7 830.8" fill="none" stroke="#1a1a1a" stroke-width="1.5"/>
<path d="M1114.8 827.5 L1120.3 831.6 L1115.7 834.4 Z" fill="#1a1a1a"/>
<path d="M1236.9 995.6 Q1249.0 1006.4 1261.1 1007.8" fill="none" stroke="#1a1a1a" stroke-width="1.5"/>
<path d="M1264.9 1008.2 L1258.2 1010.2 L1258.8 1004.8 Z" fill="#1a1a1a"/>
<path d="M1366.3 1063.4 Q1376.5 1030.0 1363.3 1002.1" fill="none" stroke="#1a1a1a" stroke-width="1.5"/>
<path d="M1361.7 998.6 L1366.9 1003.3 L1362.0 1005.6 Z" fill="#1a1a1a"/>
<path d="M1355.2 984.5 Q1340.3 949.0 1308.9 934.8" fill="none" stroke="#1a1a1a" stroke-width="1.5"/>
<path d="M1305.4 933.2 L1312.3 933.4 L1310.1 938.3 Z" fill="#1a1a1a"/>
<path d="M1293.1 924.4 Q1265.2 891.5 1226.3 887.2" fill="none" stroke="#1a1a1a" stroke-width="1.5"/>
<path d="M1222.5 886.8 L1229.1 884.8 L1228.5 890.1 Z" fill="#1a1a1a"/>
<circle cx="1109.9" cy="820.5" r="7.9" fill="#6a4c93"/>
<circle cx="1203" cy="819.8" r="7.9" fill="#6a4c93"/>
<circle cx="1121.7" cy="858.5" r="7.9" fill="#6a4c93"/>
<circle cx="1214" cy="886.1" r="7.9" fill="#6a4c93"/>
<circle cx="1296.8" cy="874.9" r="7.9" fill="#6a4c93"/>
<circle cx="1248.7" cy="916.6" r="7.9" fill="#6a4c93"/>
<circle cx="1297.5" cy="930" r="7.9" fill="#6a4c93"/>
<circle cx="1343.4" cy="977" r="7.9" fill="#6a4c93"/>
<circle cx="1357.8" cy="991.1" r="7.9" fill="#6a4c93"/>
<circle cx="1195.3" cy="986.3" r="7.9" fill="#6a4c93"/>
<circle cx="1231.9" cy="990.6" r="7.9" fill="#6a4c93"/>
<circle cx="1151.7" cy="1009.2" r="7.9" fill="#6a4c93"/>
<circle cx="1273.4" cy="1008.5" r="7.9" fill="#6a4c93"/>
<circle cx="1189" cy="1030.1" r="7.9" fill="#6a4c93"/>
<circle cx="1263.4" cy="1049.7" r="7.9" fill="#6a4c93"/>
<circle cx="1364" cy="1070.1" r="7.9" fill="#6a4c93"/>
<circle cx="1187.7" cy="1082.5" r="7.9" fill="#6a4c93"/>
<circle cx="1263.4" cy="1099.1" r="7.9" fill="#6a4c93"/>
<circle cx="1071.8" cy="1096.7" r="7.9" fill="#6a4c93"/>
<circle cx="1145.5" cy="1140.3" r="7.9" fill="#6a4c93"/>
<circle cx="929.7" cy="944.6" r="7.9" fill="#74bfe8"/>
<circle cx="917.8" cy="1035.7" r="7.9" fill="#74bfe8"/>
<circle cx="899.5" cy="1142.9" r="7.9" fill="#74bfe8"/>
<circle cx="988.3" cy="1147.7" r="7.9" fill="#74bfe8"/>
<text x="1109.9" y="828.9" font-size="10.9" text-anchor="end" fill="#1a1a1a" style="font-family:'DejaVu Sans','Liberation Sans',sans-serif">uma</text>
<text x="1203.0" y="815.6" font-size="10.9" text-anchor="end" fill="#1a1a1a" style="font-family:'DejaVu Sans','Liberation Sans',sans-serif">imagem</text>
<text x="1121.7" y="866.9" font-size="10.9" text-anchor="end" fill="#1a1a1a" style="font-family:'DejaVu Sans','Liberation Sans',sans-serif">tem</text>
<text x="1214.0" y="894.5" font-size="10.9" text-anchor="end" fill="#1a1a1a" style="font-family:'DejaVu Sans','Liberation Sans',sans-serif">sabão</text>
<text x="1296.8" y="883.3" font-size="10.9" text-anchor="end" fill="#1a1a1a" style="font-family:'DejaVu Sans','Liberation Sans',sans-serif">dentro</text>
<text x="1248.7" y="925.0" font-size="10.9" text-anchor="end" fill="#1a1a1a" style="font-family:'DejaVu Sans','Liberation Sans',sans-serif">estourar</text>
<text x="1297.5" y="938.4" font-size="10.9" text-anchor="end" fill="#1a1a1a" style="font-family:'DejaVu Sans','Liberation Sans',sans-serif">de</text>
<text x="1343.4" y="985.4" font-size="10.9" text-anchor="end" fill="#1a1a1a" style="font-family:'DejaVu Sans','Liberation Sans',sans-serif">dela</text>
<text x="1357.8" y="999.5" font-size="10.9" text-anchor="end" fill="#1a1a1a" style="font-family:'DejaVu Sans','Liberation Sans',sans-serif">bola</text>
<text x="1195.3" y="994.7" font-size="10.9" text-anchor="end" fill="#1a1a1a" style="font-family:'DejaVu Sans','Liberation Sans',sans-serif">ela</text>
<text x="1234.9" y="986.4" font-size="10.9" text-anchor="end" fill="#1a1a1a" style="font-family:'DejaVu Sans','Liberation Sans',sans-serif">quer</text>
<text x="1151.7" y="1017.6" font-size="10.9" text-anchor="end" fill="#1a1a1a" style="font-family:'DejaVu Sans','Liberation Sans',sans-serif">cachorrinho</text>
<text x="1273.4" y="1016.9" font-size="10.9" text-anchor="end" fill="#1a1a1a" style="font-family:'DejaVu Sans','Liberation Sans',sans-serif">tentar</text>
<text x="1189.0" y="1038.5" font-size="10.9" text-anchor="end" fill="#1a1a1a" style="font-family:'DejaVu Sans','Liberation Sans',sans-serif">aí</text>
<text x="1263.4" y="1058.1" font-size="10.9" text-anchor="end" fill="#1a1a1a" style="font-family:'DejaVu Sans','Liberation Sans',sans-serif">e</text>
<text x="1364.0" y="1078.5" font-size="10.9" text-anchor="end" fill="#1a1a1a" style="font-family:'DejaVu Sans','Liberation Sans',sans-serif">a</text>
<text x="1187.7" y="1090.9" font-size="10.9" text-anchor="end" fill="#1a1a1a" style="font-family:'DejaVu Sans','Liberation Sans',sans-serif">para</text>
<text x="1263.4" y="1107.5" font-size="10.9" text-anchor="end" fill="#1a1a1a" style="font-family:'DejaVu Sans','Liberation Sans',sans-serif">pegar</text>
<text x="1071.8" y="1105.1" font-size="10.9" text-anchor="end" fill="#1a1a1a" style="font-family:'DejaVu Sans','Liberation Sans',sans-serif">o</text>
<text x="1145.5" y="1148.7" font-size="10.9" text-anchor="end" fill="#1a1a1a" style="font-family:'DejaVu Sans','Liberation Sans',sans-serif">ver</text>
<text x="929.7" y="953.0" font-size="10.9" text-anchor="end" fill="#1a1a1a" style="font-family:'DejaVu Sans','Liberation Sans',sans-serif">só</text>
<text x="917.8" y="1044.1" font-size="10.9" text-anchor="end" fill="#1a1a1a" style="font-family:'DejaVu Sans','Liberation Sans',sans-serif">uhuh</text>
<text x="899.5" y="1151.3" font-size="10.9" text-anchor="end" fill="#1a1a1a" style="font-family:'DejaVu Sans','Liberation Sans',sans-serif">acontece</text>
<text x="988.3" y="1156.1" font-size="10.9" text-anchor="end" fill="#1a1a1a" style="font-family:'DejaVu Sans','Liberation Sans',sans-serif">que</text>
<!-- 50_c.svg -->
<rect x="85.1" y="1271" width="387.9" height="389" fill="#fff"/>
<line x1="85.1" x2="473" y1="1347.6" y2="1347.6" stroke="#ebebeb" stroke-width="1.3"/>
<line x1="85.1" x2="473" y1="1465.6" y2="1465.6" stroke="#ebebeb" stroke-width="1.3"/>
<line x1="85.1" x2="473" y1="1583.7" y2="1583.7" stroke="#ebebeb" stroke-width="1.3"/>
<line x1="85.1" x2="473" y1="1288.6" y2="1288.6" stroke="#e6e6e6" stroke-width="2.4"/>
<line x1="85.1" x2="473" y1="1406.6" y2="1406.6" stroke="#e6e6e6" stroke-width="2.4"/>
<line x1="85.1" x2="473" y1="1524.6" y2="1524.6" stroke="#e6e6e6" stroke-width="2.4"/>
<line x1="85.1" x2="473" y1="1642.8" y2="1642.8" stroke="#e6e6e6" stroke-width="2.4"/>
<line x1="128.8" x2="128.8" y1="1271" y2="1660" stroke="#e6e6e6" stroke-width="2.4"/>
<line x1="203.9" x2="203.9" y1="1271" y2="1660" stroke="#e6e6e6" stroke-width="2.4"/>
<line x1="279.0" x2="279.0" y1="1271" y2="1660" stroke="#e6e6e6" stroke-width="2.4"/>
<line x1="354.1" x2="354.1" y1="1271" y2="1660" stroke="#e6e6e6" stroke-width="2.4"/>
<line x1="429.2" x2="429.2" y1="1271" y2="1660" stroke="#e6e6e6" stroke-width="2.4"/>
<path d="M121.1 1406.3H136.5M121.1 1472.4H136.5M128.8 1406.3V1472.4" stroke="#e4716e" stroke-width="2.3" fill="none"/>
<circle cx="128.8" cy="1439.6" r="7.5" fill="#e4716e"/>
<path d="M196.2 1477.3H211.6M196.2 1546.8H211.6M203.9 1477.3V1546.8" stroke="#989d2a" stroke-width="2.3" fill="none"/>
<circle cx="203.9" cy="1512.1" r="7.5" fill="#989d2a"/>
<path d="M271.3 1539.4H286.7M271.3 1596.0H286.7M279.0 1539.4V1596.0" stroke="#17a371" stroke-width="2.3" fill="none"/>
<circle cx="279.0" cy="1567.9" r="7.5" fill="#17a371"/>
<path d="M346.4 1514.3H361.8M346.4 1576.9H361.8M354.1 1514.3V1576.9" stroke="#22a0da" stroke-width="2.3" fill="none"/>
<circle cx="354.1" cy="1545.4" r="7.5" fill="#22a0da"/>
<path d="M421.5 1512.1H436.9M421.5 1577.6H436.9M429.2 1512.1V1577.6" stroke="#a071a6" stroke-width="2.3" fill="none"/>
<circle cx="429.2" cy="1544.6" r="7.5" fill="#a071a6"/>
<polyline points="128.8,1439.6 203.9,1512.1 279.0,1567.9 354.1,1545.4 429.2,1544.6" fill="none" stroke="#989b9a" stroke-width="2.4" stroke-linejoin="round"/>
<path d="M128.8 1321.5V1312.0H429.2V1321.5" fill="none" stroke="#0a0a0a" stroke-width="1.6"/>
<text x="279.0" y="1313.3" font-size="17.6" text-anchor="middle" fill="#0a0a0a" stroke="#0a0a0a" stroke-width="0.3">*</text>
<path d="M128.8 1345.3V1335.8H354.1V1345.3" fill="none" stroke="#0a0a0a" stroke-width="1.6"/>
<text x="241.5" y="1337.1" font-size="17.6" text-anchor="middle" fill="#0a0a0a" stroke="#0a0a0a" stroke-width="0.3">*</text>
<path d="M128.8 1368.7V1359.2H279.0V1368.7" fill="none" stroke="#0a0a0a" stroke-width="1.6"/>
<text x="203.9" y="1360.5" font-size="17.6" text-anchor="middle" fill="#0a0a0a" stroke="#0a0a0a" stroke-width="0.3" letter-spacing="1.55" dx="0.8">**</text>
<rect x="85.1" y="1271" width="387.9" height="389" fill="none" stroke="#30363b" stroke-width="1.8"/>
<line x1="79.1" x2="84.3" y1="1288.6" y2="1288.6" stroke="#30363b" stroke-width="1.7"/>
<text x="73.1" y="1294.2" font-size="17.6" text-anchor="end" fill="#0a0a0a">2.00</text>
<line x1="79.1" x2="84.3" y1="1406.6" y2="1406.6" stroke="#30363b" stroke-width="1.7"/>
<text x="73.1" y="1412.2" font-size="17.6" text-anchor="end" fill="#0a0a0a">1.75</text>
<line x1="79.1" x2="84.3" y1="1524.6" y2="1524.6" stroke="#30363b" stroke-width="1.7"/>
<text x="73.1" y="1530.2" font-size="17.6" text-anchor="end" fill="#0a0a0a">1.50</text>
<line x1="79.1" x2="84.3" y1="1642.8" y2="1642.8" stroke="#30363b" stroke-width="1.7"/>
<text x="73.1" y="1648.4" font-size="17.6" text-anchor="end" fill="#0a0a0a">1.25</text>
<line x1="128.8" x2="128.8" y1="1660.8" y2="1665.6" stroke="#30363b" stroke-width="1.7"/>
<text x="129.6" y="1682.8" font-size="17.6" text-anchor="middle" fill="#0a0a0a">1</text>
<line x1="203.9" x2="203.9" y1="1660.8" y2="1665.6" stroke="#30363b" stroke-width="1.7"/>
<text x="204.7" y="1682.8" font-size="17.6" text-anchor="middle" fill="#0a0a0a">2</text>
<line x1="279.0" x2="279.0" y1="1660.8" y2="1665.6" stroke="#30363b" stroke-width="1.7"/>
<text x="279.8" y="1682.8" font-size="17.6" text-anchor="middle" fill="#0a0a0a">3</text>
<line x1="354.1" x2="354.1" y1="1660.8" y2="1665.6" stroke="#30363b" stroke-width="1.7"/>
<text x="354.9" y="1682.8" font-size="17.6" text-anchor="middle" fill="#0a0a0a">4</text>
<line x1="429.2" x2="429.2" y1="1660.8" y2="1665.6" stroke="#30363b" stroke-width="1.7"/>
<text x="430.0" y="1682.8" font-size="17.6" text-anchor="middle" fill="#0a0a0a">5</text>
<text x="293.1" y="1704.5" font-size="18" text-anchor="middle" fill="#0a0a0a">Sessions</text>
<text x="87.7" y="1261.9" font-size="26" fill="#0a0a0a">RE</text>
<rect x="567.2" y="1271" width="389.5999999999999" height="389" fill="#fff"/>
<line x1="567.2" x2="956.8" y1="1324.0" y2="1324.0" stroke="#ebebeb" stroke-width="1.3"/>
<line x1="567.2" x2="956.8" y1="1394.7" y2="1394.7" stroke="#ebebeb" stroke-width="1.3"/>
<line x1="567.2" x2="956.8" y1="1465.4" y2="1465.4" stroke="#ebebeb" stroke-width="1.3"/>
<line x1="567.2" x2="956.8" y1="1536.1" y2="1536.1" stroke="#ebebeb" stroke-width="1.3"/>
<line x1="567.2" x2="956.8" y1="1606.8" y2="1606.8" stroke="#ebebeb" stroke-width="1.3"/>
<line x1="567.2" x2="956.8" y1="1288.6" y2="1288.6" stroke="#e6e6e6" stroke-width="2.4"/>
<line x1="567.2" x2="956.8" y1="1359.3" y2="1359.3" stroke="#e6e6e6" stroke-width="2.4"/>
<line x1="567.2" x2="956.8" y1="1430.0" y2="1430.0" stroke="#e6e6e6" stroke-width="2.4"/>
<line x1="567.2" x2="956.8" y1="1500.8" y2="1500.8" stroke="#e6e6e6" stroke-width="2.4"/>
<line x1="567.2" x2="956.8" y1="1571.5" y2="1571.5" stroke="#e6e6e6" stroke-width="2.4"/>
<line x1="567.2" x2="956.8" y1="1642.2" y2="1642.2" stroke="#e6e6e6" stroke-width="2.4"/>
<line x1="611.6" x2="611.6" y1="1271" y2="1660" stroke="#e6e6e6" stroke-width="2.4"/>
<line x1="686.7" x2="686.7" y1="1271" y2="1660" stroke="#e6e6e6" stroke-width="2.4"/>
<line x1="761.8" x2="761.8" y1="1271" y2="1660" stroke="#e6e6e6" stroke-width="2.4"/>
<line x1="836.9" x2="836.9" y1="1271" y2="1660" stroke="#e6e6e6" stroke-width="2.4"/>
<line x1="912.0" x2="912.0" y1="1271" y2="1660" stroke="#e6e6e6" stroke-width="2.4"/>
<path d="M603.9 1513.4H619.3M603.9 1596.2H619.3M611.6 1513.4V1596.2" stroke="#e4716e" stroke-width="2.3" fill="none"/>
<circle cx="611.6" cy="1554.8" r="7.5" fill="#e4716e"/>
<path d="M679.0 1465.9H694.4M679.0 1556.2H694.4M686.7 1465.9V1556.2" stroke="#989d2a" stroke-width="2.3" fill="none"/>
<circle cx="686.7" cy="1511.0" r="7.5" fill="#989d2a"/>
<path d="M754.1 1371.0H769.5M754.1 1457.2H769.5M761.8 1371.0V1457.2" stroke="#17a371" stroke-width="2.3" fill="none"/>
<circle cx="761.8" cy="1414.1" r="7.5" fill="#17a371"/>
<path d="M829.2 1469.3H844.6M829.2 1555.2H844.6M836.9 1469.3V1555.2" stroke="#22a0da" stroke-width="2.3" fill="none"/>
<circle cx="836.9" cy="1512.8" r="7.5" fill="#22a0da"/>
<path d="M904.3 1372.0H919.7M904.3 1463.8H919.7M912.0 1372.0V1463.8" stroke="#a071a6" stroke-width="2.3" fill="none"/>
<circle cx="912.0" cy="1418.3" r="7.5" fill="#a071a6"/>
<polyline points="611.6,1554.8 686.7,1511.0 761.8,1414.1 836.9,1512.8 912.0,1418.3" fill="none" stroke="#989b9a" stroke-width="2.4" stroke-linejoin="round"/>
<path d="M611.6 1298.1V1288.6H912.0V1298.1" fill="none" stroke="#0a0a0a" stroke-width="1.6"/>
<text x="761.8" y="1289.9" font-size="17.6" text-anchor="middle" fill="#0a0a0a" stroke="#0a0a0a" stroke-width="0.3">*</text>
<path d="M611.6 1326.5V1317.0H761.8V1326.5" fill="none" stroke="#0a0a0a" stroke-width="1.6"/>
<text x="686.7" y="1318.3" font-size="17.6" text-anchor="middle" fill="#0a0a0a" stroke="#0a0a0a" stroke-width="0.3">*</text>
<rect x="567.2" y="1271" width="389.5999999999999" height="389" fill="none" stroke="#30363b" stroke-width="1.8"/>
<line x1="561.2" x2="566.4" y1="1288.6" y2="1288.6" stroke="#30363b" stroke-width="1.7"/>
<text x="557.7" y="1294.2" font-size="17.6" text-anchor="end" fill="#0a0a0a">21.25</text>
<line x1="561.2" x2="566.4" y1="1359.3" y2="1359.3" stroke="#30363b" stroke-width="1.7"/>
<text x="557.7" y="1364.9" font-size="17.6" text-anchor="end" fill="#0a0a0a">21.00</text>
<line x1="561.2" x2="566.4" y1="1430.0" y2="1430.0" stroke="#30363b" stroke-width="1.7"/>
<text x="557.7" y="1435.6" font-size="17.6" text-anchor="end" fill="#0a0a0a">20.75</text>
<line x1="561.2" x2="566.4" y1="1500.8" y2="1500.8" stroke="#30363b" stroke-width="1.7"/>
<text x="557.7" y="1506.4" font-size="17.6" text-anchor="end" fill="#0a0a0a">20.50</text>
<line x1="561.2" x2="566.4" y1="1571.5" y2="1571.5" stroke="#30363b" stroke-width="1.7"/>
<text x="557.7" y="1577.1" font-size="17.6" text-anchor="end" fill="#0a0a0a">20.25</text>
<line x1="561.2" x2="566.4" y1="1642.2" y2="1642.2" stroke="#30363b" stroke-width="1.7"/>
<text x="557.7" y="1647.8" font-size="17.6" text-anchor="end" fill="#0a0a0a">20.00</text>
<line x1="611.6" x2="611.6" y1="1660.8" y2="1665.6" stroke="#30363b" stroke-width="1.7"/>
<text x="612.4" y="1682.8" font-size="17.6" text-anchor="middle" fill="#0a0a0a">1</text>
<line x1="686.7" x2="686.7" y1="1660.8" y2="1665.6" stroke="#30363b" stroke-width="1.7"/>
<text x="687.5" y="1682.8" font-size="17.6" text-anchor="middle" fill="#0a0a0a">2</text>
<line x1="761.8" x2="761.8" y1="1660.8" y2="1665.6" stroke="#30363b" stroke-width="1.7"/>
<text x="762.6" y="1682.8" font-size="17.6" text-anchor="middle" fill="#0a0a0a">3</text>
<line x1="836.9" x2="836.9" y1="1660.8" y2="1665.6" stroke="#30363b" stroke-width="1.7"/>
<text x="837.7" y="1682.8" font-size="17.6" text-anchor="middle" fill="#0a0a0a">4</text>
<line x1="912.0" x2="912.0" y1="1660.8" y2="1665.6" stroke="#30363b" stroke-width="1.7"/>
<text x="912.8" y="1682.8" font-size="17.6" text-anchor="middle" fill="#0a0a0a">5</text>
<text x="776.0" y="1704.5" font-size="18" text-anchor="middle" fill="#0a0a0a">Sessions</text>
<text x="566.9" y="1261.9" font-size="26" fill="#0a0a0a">LCC</text>
<rect x="1041" y="1271" width="388.20000000000005" height="389" fill="#fff"/>
<line x1="1041" x2="1429.2" y1="1332.8" y2="1332.8" stroke="#ebebeb" stroke-width="1.3"/>
<line x1="1041" x2="1429.2" y1="1421.3" y2="1421.3" stroke="#ebebeb" stroke-width="1.3"/>
<line x1="1041" x2="1429.2" y1="1509.8" y2="1509.8" stroke="#ebebeb" stroke-width="1.3"/>
<line x1="1041" x2="1429.2" y1="1598.2" y2="1598.2" stroke="#ebebeb" stroke-width="1.3"/>
<line x1="1041" x2="1429.2" y1="1288.6" y2="1288.6" stroke="#e6e6e6" stroke-width="2.4"/>
<line x1="1041" x2="1429.2" y1="1377.1" y2="1377.1" stroke="#e6e6e6" stroke-width="2.4"/>
<line x1="1041" x2="1429.2" y1="1465.5" y2="1465.5" stroke="#e6e6e6" stroke-width="2.4"/>
<line x1="1041" x2="1429.2" y1="1554.0" y2="1554.0" stroke="#e6e6e6" stroke-width="2.4"/>
<line x1="1041" x2="1429.2" y1="1642.4" y2="1642.4" stroke="#e6e6e6" stroke-width="2.4"/>
<line x1="1085.5" x2="1085.5" y1="1271" y2="1660" stroke="#e6e6e6" stroke-width="2.4"/>
<line x1="1160.6" x2="1160.6" y1="1271" y2="1660" stroke="#e6e6e6" stroke-width="2.4"/>
<line x1="1235.7" x2="1235.7" y1="1271" y2="1660" stroke="#e6e6e6" stroke-width="2.4"/>
<line x1="1310.8" x2="1310.8" y1="1271" y2="1660" stroke="#e6e6e6" stroke-width="2.4"/>
<line x1="1385.9" x2="1385.9" y1="1271" y2="1660" stroke="#e6e6e6" stroke-width="2.4"/>
<path d="M1077.8 1511.7H1093.2M1077.8 1596.2H1093.2M1085.5 1511.7V1596.2" stroke="#e4716e" stroke-width="2.3" fill="none"/>
<circle cx="1085.5" cy="1554.1" r="7.5" fill="#e4716e"/>
<path d="M1152.9 1399.0H1168.3M1152.9 1491.4H1168.3M1160.6 1399.0V1491.4" stroke="#989d2a" stroke-width="2.3" fill="none"/>
<circle cx="1160.6" cy="1445.2" r="7.5" fill="#989d2a"/>
<path d="M1228.0 1378.3H1243.4M1228.0 1464.1H1243.4M1235.7 1378.3V1464.1" stroke="#17a371" stroke-width="2.3" fill="none"/>
<circle cx="1235.7" cy="1420.7" r="7.5" fill="#17a371"/>
<path d="M1303.1 1420.3H1318.5M1303.1 1515.2H1318.5M1310.8 1420.3V1515.2" stroke="#22a0da" stroke-width="2.3" fill="none"/>
<circle cx="1310.8" cy="1467.9" r="7.5" fill="#22a0da"/>
<path d="M1378.2 1359.3H1393.6M1378.2 1454.8H1393.6M1385.9 1359.3V1454.8" stroke="#a071a6" stroke-width="2.3" fill="none"/>
<circle cx="1385.9" cy="1406.9" r="7.5" fill="#a071a6"/>
<polyline points="1085.5,1554.1 1160.6,1445.2 1235.7,1420.7 1310.8,1467.9 1385.9,1406.9" fill="none" stroke="#989b9a" stroke-width="2.4" stroke-linejoin="round"/>
<path d="M1085.5 1324.0V1314.5H1385.9V1324.0" fill="none" stroke="#0a0a0a" stroke-width="1.6"/>
<text x="1235.7" y="1315.8" font-size="17.6" text-anchor="middle" fill="#0a0a0a" stroke="#0a0a0a" stroke-width="0.3">*</text>
<path d="M1085.5 1350.9V1341.4H1235.7V1350.9" fill="none" stroke="#0a0a0a" stroke-width="1.6"/>
<text x="1160.6" y="1342.7" font-size="17.6" text-anchor="middle" fill="#0a0a0a" stroke="#0a0a0a" stroke-width="0.3">*</text>
<rect x="1041" y="1271" width="388.20000000000005" height="389" fill="none" stroke="#30363b" stroke-width="1.8"/>
<line x1="1035.0" x2="1040.2" y1="1288.6" y2="1288.6" stroke="#30363b" stroke-width="1.7"/>
<text x="1029.9" y="1294.2" font-size="17.6" text-anchor="end" fill="#0a0a0a">13.7</text>
<line x1="1035.0" x2="1040.2" y1="1377.1" y2="1377.1" stroke="#30363b" stroke-width="1.7"/>
<text x="1029.9" y="1382.7" font-size="17.6" text-anchor="end" fill="#0a0a0a">13.2</text>
<line x1="1035.0" x2="1040.2" y1="1465.5" y2="1465.5" stroke="#30363b" stroke-width="1.7"/>
<text x="1029.9" y="1471.1" font-size="17.6" text-anchor="end" fill="#0a0a0a">12.7</text>
<line x1="1035.0" x2="1040.2" y1="1554.0" y2="1554.0" stroke="#30363b" stroke-width="1.7"/>
<text x="1029.9" y="1559.6" font-size="17.6" text-anchor="end" fill="#0a0a0a">12.2</text>
<line x1="1035.0" x2="1040.2" y1="1642.4" y2="1642.4" stroke="#30363b" stroke-width="1.7"/>
<text x="1029.9" y="1648.0" font-size="17.6" text-anchor="end" fill="#0a0a0a">11.7</text>
<line x1="1085.5" x2="1085.5" y1="1660.8" y2="1665.6" stroke="#30363b" stroke-width="1.7"/>
<text x="1086.3" y="1682.8" font-size="17.6" text-anchor="middle" fill="#0a0a0a">1</text>
<line x1="1160.6" x2="1160.6" y1="1660.8" y2="1665.6" stroke="#30363b" stroke-width="1.7"/>
<text x="1161.4" y="1682.8" font-size="17.6" text-anchor="middle" fill="#0a0a0a">2</text>
<line x1="1235.7" x2="1235.7" y1="1660.8" y2="1665.6" stroke="#30363b" stroke-width="1.7"/>
<text x="1236.5" y="1682.8" font-size="17.6" text-anchor="middle" fill="#0a0a0a">3</text>
<line x1="1310.8" x2="1310.8" y1="1660.8" y2="1665.6" stroke="#30363b" stroke-width="1.7"/>
<text x="1311.6" y="1682.8" font-size="17.6" text-anchor="middle" fill="#0a0a0a">4</text>
<line x1="1385.9" x2="1385.9" y1="1660.8" y2="1665.6" stroke="#30363b" stroke-width="1.7"/>
<text x="1386.7" y="1682.8" font-size="17.6" text-anchor="middle" fill="#0a0a0a">5</text>
<text x="1249.1" y="1704.5" font-size="18" text-anchor="middle" fill="#0a0a0a">Sessions</text>
<text x="1039.7" y="1261.9" font-size="26" fill="#0a0a0a">LSC</text>
<!-- 60_d.svg -->
<defs><linearGradient id="rdbu" x1="0" y1="0" x2="0" y2="1"><stop offset="0" stop-color="#b2182b"/><stop offset="0.125" stop-color="#d6604d"/><stop offset="0.25" stop-color="#f4a582"/><stop offset="0.375" stop-color="#fddbc7"/><stop offset="0.5" stop-color="#f7f7f7"/><stop offset="0.625" stop-color="#d1e5f0"/><stop offset="0.75" stop-color="#92c5de"/><stop offset="0.875" stop-color="#4393c3"/><stop offset="1" stop-color="#2166ac"/></linearGradient></defs>
<rect x="152.1" y="1818.5" width="386.9" height="386.8000000000002" fill="#fff"/>
<line x1="152.1" x2="539" y1="1855.6" y2="1855.6" stroke="#e6e6e6" stroke-width="2"/>
<line x1="152.1" x2="539" y1="1918.1" y2="1918.1" stroke="#e6e6e6" stroke-width="2"/>
<line x1="152.1" x2="539" y1="1980.6" y2="1980.6" stroke="#e6e6e6" stroke-width="2"/>
<line x1="152.1" x2="539" y1="2043.1" y2="2043.1" stroke="#e6e6e6" stroke-width="2"/>
<line x1="152.1" x2="539" y1="2105.6" y2="2105.6" stroke="#e6e6e6" stroke-width="2"/>
<line x1="152.1" x2="539" y1="2168.1" y2="2168.1" stroke="#e6e6e6" stroke-width="2"/>
<line x1="224.5" x2="224.5" y1="1818.5" y2="2205.3" stroke="#e6e6e6" stroke-width="2"/>
<line x1="345.5" x2="345.5" y1="1818.5" y2="2205.3" stroke="#e6e6e6" stroke-width="2"/>
<line x1="466.5" x2="466.5" y1="1818.5" y2="2205.3" stroke="#e6e6e6" stroke-width="2"/>
<rect x="160.7" y="1821.3" width="127.6" height="68.5" fill="#fff"/>
<rect x="281.7" y="1821.3" width="127.6" height="68.5" fill="#fff"/>
<rect x="402.7" y="1821.3" width="127.6" height="68.5" fill="#fff"/>
<rect x="160.7" y="1883.8" width="127.6" height="68.5" fill="#fff"/>
<rect x="281.7" y="1883.8" width="127.6" height="68.5" fill="#fff"/>
<rect x="402.7" y="1883.8" width="127.6" height="68.5" fill="#fff"/>
<rect x="160.7" y="1946.3" width="127.6" height="68.5" fill="#fff"/>
<rect x="281.7" y="1946.3" width="127.6" height="68.5" fill="#fff"/>
<rect x="402.7" y="1946.3" width="127.6" height="68.5" fill="#fff"/>
<rect x="160.7" y="2008.8" width="127.6" height="68.5" fill="#fff"/>
<rect x="281.7" y="2008.8" width="127.6" height="68.5" fill="#fff"/>
<rect x="402.7" y="2008.8" width="127.6" height="68.5" fill="#fff"/>
<rect x="160.7" y="2071.3" width="127.6" height="68.5" fill="#fff"/>
<rect x="281.7" y="2071.3" width="127.6" height="68.5" fill="#fff"/>
<rect x="402.7" y="2071.3" width="127.6" height="68.5" fill="#fff"/>
<rect x="160.7" y="2133.8" width="127.6" height="68.5" fill="#fff"/>
<rect x="281.7" y="2133.8" width="127.6" height="68.5" fill="#fff"/>
<rect x="402.7" y="2133.8" width="127.6" height="68.5" fill="#fff"/>
<rect x="166.8" y="1827.2" width="115.3" height="56.8" fill="#eef0f2"/>
<text x="224.5" y="1863.8" font-size="22.7" text-anchor="middle" fill="#0a0a0a">-0.04</text>
<rect x="287.9" y="1827.2" width="115.3" height="56.8" fill="#f4f4f4"/>
<text x="345.5" y="1863.8" font-size="22.7" text-anchor="middle" fill="#0a0a0a">0</text>
<rect x="408.9" y="1827.2" width="115.3" height="56.8" fill="#eef0f2"/>
<text x="466.5" y="1863.8" font-size="22.7" text-anchor="middle" fill="#0a0a0a">-0.04</text>
<rect x="166.8" y="1889.7" width="115.3" height="56.8" fill="#f5efec"/>
<text x="224.5" y="1926.3" font-size="22.7" text-anchor="middle" fill="#0a0a0a">0.05</text>
<rect x="287.9" y="1889.7" width="115.3" height="56.8" fill="#f5efec"/>
<text x="345.5" y="1926.3" font-size="22.7" text-anchor="middle" fill="#0a0a0a">0.05</text>
<rect x="408.9" y="1889.7" width="115.3" height="56.8" fill="#f5f0ee"/>
<text x="466.5" y="1926.3" font-size="22.7" text-anchor="middle" fill="#0a0a0a">0.04</text>
<rect x="166.8" y="1952.2" width="115.3" height="56.8" fill="#f4f2f1"/>
<text x="224.5" y="1988.8" font-size="22.7" text-anchor="middle" fill="#0a0a0a">0.02</text>
<rect x="287.9" y="1952.2" width="115.3" height="56.8" fill="#f4f4f4"/>
<text x="345.5" y="1988.8" font-size="22.7" text-anchor="middle" fill="#0a0a0a">0</text>
<rect x="408.9" y="1952.2" width="115.3" height="56.8" fill="#f1f2f3"/>
<text x="466.5" y="1988.8" font-size="22.7" text-anchor="middle" fill="#0a0a0a">-0.02</text>
<rect x="166.8" y="2014.7" width="115.3" height="56.8" fill="#f7e5dc"/>
<text x="224.5" y="2051.3" font-size="22.7" text-anchor="middle" fill="#0a0a0a">0.15</text>
<rect x="287.9" y="2014.7" width="115.3" height="56.8" fill="#f6eae4"/>
<text x="345.5" y="2051.3" font-size="22.7" text-anchor="middle" fill="#0a0a0a">0.1</text>
<rect x="408.9" y="2014.7" width="115.3" height="56.8" fill="#eef0f2"/>
<text x="466.5" y="2051.3" font-size="22.7" text-anchor="middle" fill="#0a0a0a">-0.04</text>
<rect x="166.8" y="2077.2" width="115.3" height="56.8" fill="#f4f2f1"/>
<text x="224.5" y="2113.8" font-size="22.7" text-anchor="middle" fill="#0a0a0a">0.02</text>
<rect x="287.9" y="2077.2" width="115.3" height="56.8" fill="#f4f4f4"/>
<text x="345.5" y="2113.8" font-size="22.7" text-anchor="middle" fill="#0a0a0a">0</text>
<rect x="408.9" y="2077.2" width="115.3" height="56.8" fill="#f0f1f3"/>
<text x="466.5" y="2113.8" font-size="22.7" text-anchor="middle" fill="#0a0a0a">-0.03</text>
<rect x="166.8" y="2139.7" width="115.3" height="56.8" fill="#f6ebe5"/>
<text x="224.5" y="2176.3" font-size="22.7" text-anchor="middle" fill="#0a0a0a">0.09</text>
<rect x="287.9" y="2139.7" width="115.3" height="56.8" fill="#f7e5dc"/>
<text x="345.5" y="2176.3" font-size="22.7" text-anchor="middle" fill="#0a0a0a">0.15</text>
<rect x="408.9" y="2139.7" width="115.3" height="56.8" fill="#f0f1f3"/>
<text x="466.5" y="2176.3" font-size="22.7" text-anchor="middle" fill="#0a0a0a">-0.03</text>
<rect x="152.1" y="1818.5" width="386.9" height="386.8000000000002" fill="none" stroke="#30363b" stroke-width="1.7"/>
<line x1="146.1" x2="151.3" y1="1855.6" y2="1855.6" stroke="#30363b" stroke-width="1.7"/>
<text x="140.8" y="1851.9" font-size="18.1" text-anchor="end" fill="#4d4d4d">word</text>
<text x="140.8" y="1871.6" font-size="18.1" text-anchor="end" fill="#4d4d4d">speed</text>
<line x1="146.1" x2="151.3" y1="1918.1" y2="1918.1" stroke="#30363b" stroke-width="1.7"/>
<text x="140.8" y="1914.4" font-size="18.1" text-anchor="end" fill="#4d4d4d">word</text>
<text x="140.8" y="1934.1" font-size="18.1" text-anchor="end" fill="#4d4d4d">accuracy</text>
<line x1="146.1" x2="151.3" y1="1980.6" y2="1980.6" stroke="#30363b" stroke-width="1.7"/>
<text x="140.8" y="1976.9" font-size="18.1" text-anchor="end" fill="#4d4d4d">text</text>
<text x="140.8" y="1996.6" font-size="18.1" text-anchor="end" fill="#4d4d4d">speed</text>
<line x1="146.1" x2="151.3" y1="2043.1" y2="2043.1" stroke="#30363b" stroke-width="1.7"/>
<text x="140.8" y="2039.4" font-size="18.1" text-anchor="end" fill="#4d4d4d">text</text>
<text x="140.8" y="2059.1" font-size="18.1" text-anchor="end" fill="#4d4d4d">comprehension</text>
<line x1="146.1" x2="151.3" y1="2105.6" y2="2105.6" stroke="#30363b" stroke-width="1.7"/>
<text x="140.8" y="2101.9" font-size="18.1" text-anchor="end" fill="#4d4d4d">reading</text>
<text x="140.8" y="2121.6" font-size="18.1" text-anchor="end" fill="#4d4d4d">percentile</text>
<line x1="146.1" x2="151.3" y1="2168.1" y2="2168.1" stroke="#30363b" stroke-width="1.7"/>
<text x="140.8" y="2164.4" font-size="18.1" text-anchor="end" fill="#4d4d4d">phonological</text>
<text x="140.8" y="2184.1" font-size="18.1" text-anchor="end" fill="#4d4d4d">awareness</text>
<line x1="224.5" x2="224.5" y1="2206.1" y2="2211.5" stroke="#30363b" stroke-width="1.7"/>
<line x1="345.5" x2="345.5" y1="2206.1" y2="2211.5" stroke="#30363b" stroke-width="1.7"/>
<line x1="466.5" x2="466.5" y1="2206.1" y2="2211.5" stroke="#30363b" stroke-width="1.7"/>
<text x="203.4" y="2236.8" font-size="24.4" fill="#4d4d4d">LCC</text>
<text x="324.8" y="2236.8" font-size="24.4" fill="#4d4d4d">LSC</text>
<text x="451.5" y="2236.8" font-size="24.4" fill="#4d4d4d">RE</text>
<text x="151.0" y="1801.5" font-size="27.4" fill="#0a0a0a">Connectedness 1 x Reading 5</text>
<rect x="890.8" y="1818.5" width="387.29999999999995" height="386.8000000000002" fill="#fff"/>
<line x1="890.8" x2="1278.1" y1="1853.4" y2="1853.4" stroke="#e6e6e6" stroke-width="2"/>
<line x1="890.8" x2="1278.1" y1="1912.2" y2="1912.2" stroke="#e6e6e6" stroke-width="2"/>
<line x1="890.8" x2="1278.1" y1="1971.1" y2="1971.1" stroke="#e6e6e6" stroke-width="2"/>
<line x1="890.8" x2="1278.1" y1="2030.0" y2="2030.0" stroke="#e6e6e6" stroke-width="2"/>
<line x1="890.8" x2="1278.1" y1="2088.8" y2="2088.8" stroke="#e6e6e6" stroke-width="2"/>
<line x1="890.8" x2="1278.1" y1="2147.7" y2="2147.7" stroke="#e6e6e6" stroke-width="2"/>
<line x1="963.2" x2="963.2" y1="1818.5" y2="2205.3" stroke="#e6e6e6" stroke-width="2"/>
<line x1="1084.2" x2="1084.2" y1="1818.5" y2="2205.3" stroke="#e6e6e6" stroke-width="2"/>
<line x1="1205.2" x2="1205.2" y1="1818.5" y2="2205.3" stroke="#e6e6e6" stroke-width="2"/>
<rect x="899.4" y="1821.0" width="127.6" height="64.8" fill="#fff"/>
<rect x="1020.4" y="1821.0" width="127.6" height="64.8" fill="#fff"/>
<rect x="1141.4" y="1821.0" width="127.6" height="64.8" fill="#fff"/>
<rect x="899.4" y="1879.8" width="127.6" height="64.8" fill="#fff"/>
<rect x="1020.4" y="1879.8" width="127.6" height="64.8" fill="#fff"/>
<rect x="1141.4" y="1879.8" width="127.6" height="64.8" fill="#fff"/>
<rect x="899.4" y="1938.7" width="127.6" height="64.8" fill="#fff"/>
<rect x="1020.4" y="1938.7" width="127.6" height="64.8" fill="#fff"/>
<rect x="1141.4" y="1938.7" width="127.6" height="64.8" fill="#fff"/>
<rect x="899.4" y="1997.5" width="127.6" height="64.8" fill="#fff"/>
<rect x="1020.4" y="1997.5" width="127.6" height="64.8" fill="#fff"/>
<rect x="1141.4" y="1997.5" width="127.6" height="64.8" fill="#fff"/>
<rect x="899.4" y="2056.4" width="127.6" height="64.8" fill="#fff"/>
<rect x="1020.4" y="2056.4" width="127.6" height="64.8" fill="#fff"/>
<rect x="1141.4" y="2056.4" width="127.6" height="64.8" fill="#fff"/>
<rect x="899.4" y="2115.2" width="127.6" height="64.8" fill="#fff"/>
<rect x="1020.4" y="2115.2" width="127.6" height="64.8" fill="#fff"/>
<rect x="1141.4" y="2115.2" width="127.6" height="64.8" fill="#fff"/>
<rect x="905.5" y="1827.0" width="115.4" height="52.9" fill="#e8edf0"/>
<text x="963.2" y="1861.6" font-size="22.7" text-anchor="middle" fill="#0a0a0a">-0.08</text>
<rect x="1026.5" y="1827.0" width="115.4" height="52.9" fill="#e4eaef"/>
<text x="1084.2" y="1861.6" font-size="22.7" text-anchor="middle" fill="#0a0a0a">-0.11</text>
<rect x="1147.5" y="1827.0" width="115.4" height="52.9" fill="#f4f2f1"/>
<text x="1205.2" y="1861.6" font-size="22.7" text-anchor="middle" fill="#0a0a0a">0.02</text>
<rect x="905.5" y="1885.8" width="115.4" height="52.9" fill="#f7e7df"/>
<text x="963.2" y="1920.5" font-size="22.7" text-anchor="middle" fill="#0a0a0a">0.13</text>
<rect x="1026.5" y="1885.8" width="115.4" height="52.9" fill="#f8dfd2"/>
<text x="1084.2" y="1920.5" font-size="22.7" text-anchor="middle" fill="#0a0a0a" font-weight="700">0.21</text>
<rect x="1147.5" y="1885.8" width="115.4" height="52.9" fill="#f0f1f3"/>
<text x="1205.2" y="1920.5" font-size="22.7" text-anchor="middle" fill="#0a0a0a">-0.03</text>
<rect x="905.5" y="1944.7" width="115.4" height="52.9" fill="#f5f0ee"/>
<text x="963.2" y="1979.3" font-size="22.7" text-anchor="middle" fill="#0a0a0a">0.04</text>
<rect x="1026.5" y="1944.7" width="115.4" height="52.9" fill="#f4f2f1"/>
<text x="1084.2" y="1979.3" font-size="22.7" text-anchor="middle" fill="#0a0a0a">0.02</text>
<rect x="1147.5" y="1944.7" width="115.4" height="52.9" fill="#f4f2f1"/>
<text x="1205.2" y="1979.3" font-size="22.7" text-anchor="middle" fill="#0a0a0a">0.02</text>
<rect x="905.5" y="2003.5" width="115.4" height="52.9" fill="#f7e5dc"/>
<text x="963.2" y="2038.2" font-size="22.7" text-anchor="middle" fill="#0a0a0a">0.15</text>
<rect x="1026.5" y="2003.5" width="115.4" height="52.9" fill="#f8e3d8"/>
<text x="1084.2" y="2038.2" font-size="22.7" text-anchor="middle" fill="#0a0a0a" font-weight="700">0.17</text>
<rect x="1147.5" y="2003.5" width="115.4" height="52.9" fill="#edeff2"/>
<text x="1205.2" y="2038.2" font-size="22.7" text-anchor="middle" fill="#0a0a0a">-0.05</text>
<rect x="905.5" y="2062.4" width="115.4" height="52.9" fill="#f5efec"/>
<text x="963.2" y="2097.0" font-size="22.7" text-anchor="middle" fill="#0a0a0a">0.05</text>
<rect x="1026.5" y="2062.4" width="115.4" height="52.9" fill="#f4f2f1"/>
<text x="1084.2" y="2097.0" font-size="22.7" text-anchor="middle" fill="#0a0a0a">0.02</text>
<rect x="1147.5" y="2062.4" width="115.4" height="52.9" fill="#f4f3f2"/>
<text x="1205.2" y="2097.0" font-size="22.7" text-anchor="middle" fill="#0a0a0a">0.01</text>
<rect x="905.5" y="2121.2" width="115.4" height="52.9" fill="#f9ded0"/>
<text x="963.2" y="2155.8" font-size="22.7" text-anchor="middle" fill="#0a0a0a" font-weight="700">0.22</text>
<rect x="1026.5" y="2121.2" width="115.4" height="52.9" fill="#f9ddcf"/>
<text x="1084.2" y="2155.8" font-size="22.7" text-anchor="middle" fill="#0a0a0a" font-weight="700">0.23</text>
<rect x="1147.5" y="2121.2" width="115.4" height="52.9" fill="#dfe7ed"/>
<text x="1205.2" y="2155.8" font-size="22.7" text-anchor="middle" fill="#0a0a0a">-0.14</text>
<text x="1120.9" y="1923.3" font-size="43" text-anchor="middle" fill="#1f2626" stroke="#1f2626" stroke-width="0.5">*</text>
<text x="1121.6" y="2045.2" font-size="43" text-anchor="middle" fill="#1f2626" stroke="#1f2626" stroke-width="0.5">*</text>
<text x="997.6" y="2158.7" font-size="43" text-anchor="middle" fill="#1f2626" stroke="#1f2626" stroke-width="0.5">*</text>
<text x="1123.9" y="2158.5" font-size="43" text-anchor="middle" fill="#1f2626" stroke="#1f2626" stroke-width="0.5">*</text>
<rect x="890.8" y="1818.5" width="387.29999999999995" height="386.8000000000002" fill="none" stroke="#30363b" stroke-width="1.7"/>
<line x1="884.8" x2="890.0" y1="1853.4" y2="1853.4" stroke="#30363b" stroke-width="1.7"/>
<text x="879.5" y="1849.7" font-size="18.1" text-anchor="end" fill="#4d4d4d">word</text>
<text x="879.5" y="1869.4" font-size="18.1" text-anchor="end" fill="#4d4d4d">speed</text>
<line x1="884.8" x2="890.0" y1="1912.2" y2="1912.2" stroke="#30363b" stroke-width="1.7"/>
<text x="879.5" y="1908.5" font-size="18.1" text-anchor="end" fill="#4d4d4d">word</text>
<text x="879.5" y="1928.2" font-size="18.1" text-anchor="end" fill="#4d4d4d">accuracy</text>
<line x1="884.8" x2="890.0" y1="1971.1" y2="1971.1" stroke="#30363b" stroke-width="1.7"/>
<text x="879.5" y="1967.4" font-size="18.1" text-anchor="end" fill="#4d4d4d">text</text>
<text x="879.5" y="1987.1" font-size="18.1" text-anchor="end" fill="#4d4d4d">speed</text>
<line x1="884.8" x2="890.0" y1="2030.0" y2="2030.0" stroke="#30363b" stroke-width="1.7"/>
<text x="879.5" y="2026.2" font-size="18.1" text-anchor="end" fill="#4d4d4d">text</text>
<text x="879.5" y="2046.0" font-size="18.1" text-anchor="end" fill="#4d4d4d">comprehension</text>
<line x1="884.8" x2="890.0" y1="2088.8" y2="2088.8" stroke="#30363b" stroke-width="1.7"/>
<text x="879.5" y="2085.1" font-size="18.1" text-anchor="end" fill="#4d4d4d">reading</text>
<text x="879.5" y="2104.8" font-size="18.1" text-anchor="end" fill="#4d4d4d">percentile</text>
<line x1="884.8" x2="890.0" y1="2147.7" y2="2147.7" stroke="#30363b" stroke-width="1.7"/>
<text x="879.5" y="2144.0" font-size="18.1" text-anchor="end" fill="#4d4d4d">phonological</text>
<text x="879.5" y="2163.7" font-size="18.1" text-anchor="end" fill="#4d4d4d">awareness</text>
<line x1="963.2" x2="963.2" y1="2206.1" y2="2211.5" stroke="#30363b" stroke-width="1.7"/>
<line x1="1084.2" x2="1084.2" y1="2206.1" y2="2211.5" stroke="#30363b" stroke-width="1.7"/>
<line x1="1205.2" x2="1205.2" y1="2206.1" y2="2211.5" stroke="#30363b" stroke-width="1.7"/>
<text x="942.7" y="2238.4" font-size="24.4" fill="#4d4d4d">LCC</text>
<text x="1063.4" y="2238.4" font-size="24.4" fill="#4d4d4d">LSC</text>
<text x="1190.5" y="2238.4" font-size="24.4" fill="#4d4d4d">RE</text>
<text x="890.5" y="1801.5" font-size="27.4" fill="#0a0a0a">Connectedness 3 x Reading 5</text>
<rect x="574.2" y="1950.9" width="35.4" height="177.7" fill="url(#rdbu)"/>
<path d="M574.2 1951.7h7M609.6 1951.7h-7" stroke="#fff" stroke-width="1.3"/>
<text x="620.9" y="1958.0" font-size="18.1" fill="#0a0a0a">1.0</text>
<path d="M574.2 1996.0h7M609.6 1996.0h-7" stroke="#fff" stroke-width="1.3"/>
<text x="620.9" y="2002.2" font-size="18.1" fill="#0a0a0a">0.5</text>
<path d="M574.2 2040.2h7M609.6 2040.2h-7" stroke="#fff" stroke-width="1.3"/>
<text x="620.9" y="2046.5" font-size="18.1" fill="#0a0a0a">0.0</text>
<path d="M574.2 2084.4h7M609.6 2084.4h-7" stroke="#fff" stroke-width="1.3"/>
<text x="620.9" y="2090.8" font-size="18.1" fill="#0a0a0a">-0.5</text>
<path d="M574.2 2128.0h7M609.6 2128.0h-7" stroke="#fff" stroke-width="1.3"/>
<text x="620.9" y="2135.0" font-size="18.1" fill="#0a0a0a">-1.0</text>
<text x="574.1" y="1912.3" font-size="22.7" fill="#0a0a0a">Spearman's</text>
<text x="574.1" y="1936.7" font-size="22.7" fill="#0a0a0a">Rho</text>
<rect x="1312.5" y="1950.9" width="35.4" height="177.7" fill="url(#rdbu)"/>
<path d="M1312.5 1951.7h7M1347.9 1951.7h-7" stroke="#fff" stroke-width="1.3"/>
<text x="1359.2" y="1958.0" font-size="18.1" fill="#0a0a0a">1.0</text>
<path d="M1312.5 1996.0h7M1347.9 1996.0h-7" stroke="#fff" stroke-width="1.3"/>
<text x="1359.2" y="2002.2" font-size="18.1" fill="#0a0a0a">0.5</text>
<path d="M1312.5 2040.2h7M1347.9 2040.2h-7" stroke="#fff" stroke-width="1.3"/>
<text x="1359.2" y="2046.5" font-size="18.1" fill="#0a0a0a">0.0</text>
<path d="M1312.5 2084.4h7M1347.9 2084.4h-7" stroke="#fff" stroke-width="1.3"/>
<text x="1359.2" y="2090.8" font-size="18.1" fill="#0a0a0a">-0.5</text>
<path d="M1312.5 2128.0h7M1347.9 2128.0h-7" stroke="#fff" stroke-width="1.3"/>
<text x="1359.2" y="2135.0" font-size="18.1" fill="#0a0a0a">-1.0</text>
<text x="1312.4" y="1912.3" font-size="22.7" fill="#0a0a0a">Spearman's</text>
<text x="1312.4" y="1936.7" font-size="22.7" fill="#0a0a0a">Rho</text>
</svg></body></html>
